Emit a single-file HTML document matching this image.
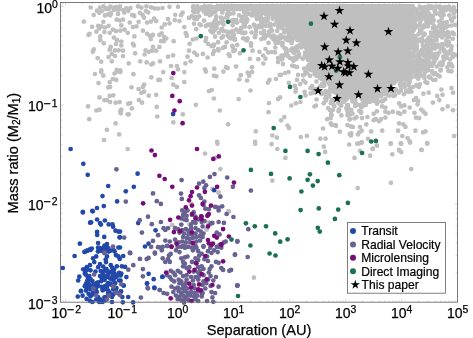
<!DOCTYPE html>
<html><head><meta charset="utf-8"><title>Mass ratio vs separation</title>
<style>html,body{margin:0;padding:0;background:#fff}body{width:473px;height:338px;overflow:hidden;position:relative}</style></head>
<body>
<svg width="473" height="338" viewBox="0 0 473 338" style="position:absolute;left:0;top:0;display:block">
<rect width="473" height="338" fill="#fff"/>
<g stroke="#cacaca" stroke-width="0.65" fill="none"><path d="M65.6 302.2v-3.3M65.6 2.5v3.3"/><path d="M82.5 302.2v-2.0M82.5 2.5v2.0"/><path d="M92.3 302.2v-2.0M92.3 2.5v2.0"/><path d="M99.3 302.2v-2.0M99.3 2.5v2.0"/><path d="M104.7 302.2v-2.0M104.7 2.5v2.0"/><path d="M109.2 302.2v-2.0M109.2 2.5v2.0"/><path d="M112.9 302.2v-2.0M112.9 2.5v2.0"/><path d="M116.2 302.2v-2.0M116.2 2.5v2.0"/><path d="M119.0 302.2v-2.0M119.0 2.5v2.0"/><path d="M121.6 302.2v-3.3M121.6 2.5v3.3"/><path d="M138.5 302.2v-2.0M138.5 2.5v2.0"/><path d="M148.3 302.2v-2.0M148.3 2.5v2.0"/><path d="M155.3 302.2v-2.0M155.3 2.5v2.0"/><path d="M160.7 302.2v-2.0M160.7 2.5v2.0"/><path d="M165.2 302.2v-2.0M165.2 2.5v2.0"/><path d="M168.9 302.2v-2.0M168.9 2.5v2.0"/><path d="M172.2 302.2v-2.0M172.2 2.5v2.0"/><path d="M175.0 302.2v-2.0M175.0 2.5v2.0"/><path d="M177.6 302.2v-3.3M177.6 2.5v3.3"/><path d="M194.5 302.2v-2.0M194.5 2.5v2.0"/><path d="M204.3 302.2v-2.0M204.3 2.5v2.0"/><path d="M211.3 302.2v-2.0M211.3 2.5v2.0"/><path d="M216.7 302.2v-2.0M216.7 2.5v2.0"/><path d="M221.2 302.2v-2.0M221.2 2.5v2.0"/><path d="M224.9 302.2v-2.0M224.9 2.5v2.0"/><path d="M228.2 302.2v-2.0M228.2 2.5v2.0"/><path d="M231.0 302.2v-2.0M231.0 2.5v2.0"/><path d="M233.6 302.2v-3.3M233.6 2.5v3.3"/><path d="M250.5 302.2v-2.0M250.5 2.5v2.0"/><path d="M260.3 302.2v-2.0M260.3 2.5v2.0"/><path d="M267.3 302.2v-2.0M267.3 2.5v2.0"/><path d="M272.7 302.2v-2.0M272.7 2.5v2.0"/><path d="M277.2 302.2v-2.0M277.2 2.5v2.0"/><path d="M280.9 302.2v-2.0M280.9 2.5v2.0"/><path d="M284.2 302.2v-2.0M284.2 2.5v2.0"/><path d="M287.0 302.2v-2.0M287.0 2.5v2.0"/><path d="M289.6 302.2v-3.3M289.6 2.5v3.3"/><path d="M306.5 302.2v-2.0M306.5 2.5v2.0"/><path d="M316.3 302.2v-2.0M316.3 2.5v2.0"/><path d="M323.3 302.2v-2.0M323.3 2.5v2.0"/><path d="M328.7 302.2v-2.0M328.7 2.5v2.0"/><path d="M333.2 302.2v-2.0M333.2 2.5v2.0"/><path d="M336.9 302.2v-2.0M336.9 2.5v2.0"/><path d="M340.2 302.2v-2.0M340.2 2.5v2.0"/><path d="M343.0 302.2v-2.0M343.0 2.5v2.0"/><path d="M345.6 302.2v-3.3M345.6 2.5v3.3"/><path d="M362.5 302.2v-2.0M362.5 2.5v2.0"/><path d="M372.3 302.2v-2.0M372.3 2.5v2.0"/><path d="M379.3 302.2v-2.0M379.3 2.5v2.0"/><path d="M384.7 302.2v-2.0M384.7 2.5v2.0"/><path d="M389.2 302.2v-2.0M389.2 2.5v2.0"/><path d="M392.9 302.2v-2.0M392.9 2.5v2.0"/><path d="M396.2 302.2v-2.0M396.2 2.5v2.0"/><path d="M399.0 302.2v-2.0M399.0 2.5v2.0"/><path d="M401.6 302.2v-3.3M401.6 2.5v3.3"/><path d="M418.5 302.2v-2.0M418.5 2.5v2.0"/><path d="M428.3 302.2v-2.0M428.3 2.5v2.0"/><path d="M435.3 302.2v-2.0M435.3 2.5v2.0"/><path d="M440.7 302.2v-2.0M440.7 2.5v2.0"/><path d="M445.2 302.2v-2.0M445.2 2.5v2.0"/><path d="M448.9 302.2v-2.0M448.9 2.5v2.0"/><path d="M452.2 302.2v-2.0M452.2 2.5v2.0"/><path d="M455.0 302.2v-2.0M455.0 2.5v2.0"/><path d="M457.6 302.2v-3.3M457.6 2.5v3.3"/><path d="M63.0 302.2v-2.0M63.0 2.5v2.0"/><path d="M60.5 272.8h2.0M457.5 272.8h-2.0"/><path d="M60.5 255.4h2.0M457.5 255.4h-2.0"/><path d="M60.5 243.1h2.0M457.5 243.1h-2.0"/><path d="M60.5 233.5h2.0M457.5 233.5h-2.0"/><path d="M60.5 225.7h2.0M457.5 225.7h-2.0"/><path d="M60.5 219.1h2.0M457.5 219.1h-2.0"/><path d="M60.5 213.4h2.0M457.5 213.4h-2.0"/><path d="M60.5 208.3h2.0M457.5 208.3h-2.0"/><path d="M60.5 203.8h3.3M457.5 203.8h-3.3"/><path d="M60.5 174.1h2.0M457.5 174.1h-2.0"/><path d="M60.5 156.7h2.0M457.5 156.7h-2.0"/><path d="M60.5 144.3h2.0M457.5 144.3h-2.0"/><path d="M60.5 134.8h2.0M457.5 134.8h-2.0"/><path d="M60.5 127.0h2.0M457.5 127.0h-2.0"/><path d="M60.5 120.3h2.0M457.5 120.3h-2.0"/><path d="M60.5 114.6h2.0M457.5 114.6h-2.0"/><path d="M60.5 109.6h2.0M457.5 109.6h-2.0"/><path d="M60.5 105.0h3.3M457.5 105.0h-3.3"/><path d="M60.5 75.3h2.0M457.5 75.3h-2.0"/><path d="M60.5 57.9h2.0M457.5 57.9h-2.0"/><path d="M60.5 45.6h2.0M457.5 45.6h-2.0"/><path d="M60.5 36.0h2.0M457.5 36.0h-2.0"/><path d="M60.5 28.2h2.0M457.5 28.2h-2.0"/><path d="M60.5 21.6h2.0M457.5 21.6h-2.0"/><path d="M60.5 15.9h2.0M457.5 15.9h-2.0"/><path d="M60.5 10.8h2.0M457.5 10.8h-2.0"/><path d="M60.5 6.3h3.3M457.5 6.3h-3.3"/></g>
<g fill="#bfbfbf"><path d="M216 4h198.5v1.3h-198.5zM212.5 5h202v1.3h-202zM214.5 6h195.5v1.3h-195.5zM216 7h193.5v1.3h-193.5zM212.5 8h200.5v1.3h-200.5zM214.5 9h197.5v1.3h-197.5zM216 10h193.5v1.3h-193.5zM256.5 11h156v1.3h-156zM259.5 12h156.5v1.3h-156.5zM262.5 13h151v1.3h-151zM265.5 14h145.5v1.3h-145.5zM268.5 15h145.5v1.3h-145.5zM271 16h143v1.3h-143zM272.5 17h137v1.3h-137zM274 18h135v1.3h-135zM275.5 19h137.5v1.3h-137.5zM277 20h136v1.3h-136zM278.5 21h131.5v1.3h-131.5zM280 22h132.5v1.3h-132.5zM281.5 23h134.5v1.3h-134.5zM283 24h131v1.3h-131zM284 25h126.5v1.3h-126.5zM285 26h128v1.3h-128zM286 27h128v1.3h-128zM287 28h123v1.3h-123zM288 29h120.5v1.3h-120.5zM289 30h124v1.3h-124zM290 31h123.5v1.3h-123.5zM291 32h119.5v1.3h-119.5zM292 33h120.5v1.3h-120.5zM293 34h123v1.3h-123zM294 35h120v1.3h-120zM295 36h115.5v1.3h-115.5zM296 37h116v1.3h-116zM296.5 38h117v1.3h-117zM297.5 39h112.5v1.3h-112.5zM298 40h110.5v1.3h-110.5zM299 41h114v1.3h-114zM299.5 42h114.5v1.3h-114.5zM300.5 43h111v1.3h-111zM301 44h111.5v1.3h-111.5zM302 45h114v1.3h-114zM302.5 46h111.5v1.3h-111.5zM303.5 47h106.5v1.3h-106.5zM304 48h107.5v1.3h-107.5zM305 49h108.5v1.3h-108.5zM305.5 50h105v1.3h-105zM306.5 51h102.5v1.3h-102.5zM307 52h106v1.3h-106zM307.5 53h107.5v1.3h-107.5zM308.5 54h103.5v1.3h-103.5zM309 55h103v1.3h-103zM309.5 56h106v1.3h-106zM310.5 57h103.5v1.3h-103.5zM311 58h98.5v1.3h-98.5zM311.5 59h99v1.3h-99zM312 60h101v1.3h-101zM312.5 61h98.5v1.3h-98.5zM313.5 62h95.5v1.3h-95.5zM314 63h99v1.3h-99zM314.5 64h101v1.3h-101zM315 65h97.5v1.3h-97.5zM315.5 66h96v1.3h-96zM316.5 67h98.5v1.3h-98.5zM317 68h97v1.3h-97zM317.5 69h92v1.3h-92zM318 70h92v1.3h-92zM318.5 71h94.5v1.3h-94.5zM319.5 72h92v1.3h-92zM320 73h89.5v1.3h-89.5zM320.5 74h92.5v1.3h-92.5zM321 75h91v1.3h-91zM321.5 76h88.5v1.3h-88.5zM322 77h85.5v1.3h-85.5zM323 78h82v1.3h-82zM323.5 79h79.5v1.3h-79.5zM324 80h76.5v1.3h-76.5zM325 81h73v1.3h-73zM325.5 82h70v1.3h-70zM326.5 83h66.5v1.3h-66.5zM327 84h63.5v1.3h-63.5zM328 85h60v1.3h-60zM328.5 86h57.5v1.3h-57.5zM329.5 87h54v1.3h-54zM331 88h50v1.3h-50zM332.5 89h46v1.3h-46zM334.5 90h41.5v1.3h-41.5zM336 91h37v1.3h-37zM338.5 92h32v1.3h-32zM341 93h26v1.3h-26zM344 94h17v1.3h-17z"/>
<circle cx="90.7" cy="7.5" r="2.35"/><circle cx="100.0" cy="7.7" r="2.35"/><circle cx="103.5" cy="6.3" r="2.35"/><circle cx="106.2" cy="8.3" r="2.35"/><circle cx="110.4" cy="6.7" r="2.35"/><circle cx="114.6" cy="7.3" r="2.35"/><circle cx="117.2" cy="7.3" r="2.35"/><circle cx="120.0" cy="6.5" r="2.35"/><circle cx="126.2" cy="8.4" r="2.35"/><circle cx="130.4" cy="8.0" r="2.35"/><circle cx="138.0" cy="6.3" r="2.35"/><circle cx="141.4" cy="7.6" r="2.35"/><circle cx="146.4" cy="6.3" r="2.35"/><circle cx="151.0" cy="7.3" r="2.35"/><circle cx="154.4" cy="8.4" r="2.35"/><circle cx="158.0" cy="8.5" r="2.35"/><circle cx="96.9" cy="10.7" r="2.35"/><circle cx="101.8" cy="11.0" r="2.35"/><circle cx="106.0" cy="8.9" r="2.35"/><circle cx="108.5" cy="9.2" r="2.35"/><circle cx="113.6" cy="9.7" r="2.35"/><circle cx="116.2" cy="9.4" r="2.35"/><circle cx="118.8" cy="9.6" r="2.35"/><circle cx="123.2" cy="10.1" r="2.35"/><circle cx="128.2" cy="11.0" r="2.35"/><circle cx="145.9" cy="11.0" r="2.35"/><circle cx="93.7" cy="15.0" r="2.35"/><circle cx="99.3" cy="12.8" r="2.35"/><circle cx="104.9" cy="15.4" r="2.35"/><circle cx="108.2" cy="14.4" r="2.35"/><circle cx="111.0" cy="13.4" r="2.35"/><circle cx="118.0" cy="13.9" r="2.35"/><circle cx="124.2" cy="12.6" r="2.35"/><circle cx="132.0" cy="15.0" r="2.35"/><circle cx="133.4" cy="15.0" r="2.35"/><circle cx="139.8" cy="12.8" r="2.35"/><circle cx="142.6" cy="14.9" r="2.35"/><circle cx="148.2" cy="12.5" r="2.35"/><circle cx="110.3" cy="15.3" r="2.35"/><circle cx="134.3" cy="16.1" r="2.35"/><circle cx="144.0" cy="17.7" r="2.35"/><circle cx="83.9" cy="21.6" r="2.35"/><circle cx="103.3" cy="21.8" r="2.35"/><circle cx="116.7" cy="19.7" r="2.35"/><circle cx="119.8" cy="20.5" r="2.35"/><circle cx="123.0" cy="19.7" r="2.35"/><circle cx="129.8" cy="22.6" r="2.35"/><circle cx="138.6" cy="21.8" r="2.35"/><circle cx="147.1" cy="22.6" r="2.35"/><circle cx="150.9" cy="21.6" r="2.35"/><circle cx="154.1" cy="18.6" r="2.35"/><circle cx="156.2" cy="21.1" r="2.35"/><circle cx="92.1" cy="26.8" r="2.35"/><circle cx="98.1" cy="25.8" r="2.35"/><circle cx="101.2" cy="26.4" r="2.35"/><circle cx="105.0" cy="27.5" r="2.35"/><circle cx="108.6" cy="25.8" r="2.35"/><circle cx="121.3" cy="25.4" r="2.35"/><circle cx="132.9" cy="27.1" r="2.35"/><circle cx="136.5" cy="26.4" r="2.35"/><circle cx="96.4" cy="31.7" r="2.35"/><circle cx="99.1" cy="28.5" r="2.35"/><circle cx="104.4" cy="32.1" r="2.35"/><circle cx="109.7" cy="32.8" r="2.35"/><circle cx="112.9" cy="29.6" r="2.35"/><circle cx="116.0" cy="31.1" r="2.35"/><circle cx="120.3" cy="30.7" r="2.35"/><circle cx="124.5" cy="29.6" r="2.35"/><circle cx="127.7" cy="32.8" r="2.35"/><circle cx="142.9" cy="30.7" r="2.35"/><circle cx="147.1" cy="33.8" r="2.35"/><circle cx="88.5" cy="34.9" r="2.35"/><circle cx="89.6" cy="33.8" r="2.35"/><circle cx="100.2" cy="36.4" r="2.35"/><circle cx="113.9" cy="37.6" r="2.35"/><circle cx="134.4" cy="36.4" r="2.35"/><circle cx="149.9" cy="35.9" r="2.35"/><circle cx="153.0" cy="34.9" r="2.35"/><circle cx="150.9" cy="39.1" r="2.35"/><circle cx="100.2" cy="40.2" r="2.35"/><circle cx="103.8" cy="43.3" r="2.35"/><circle cx="117.1" cy="40.2" r="2.35"/><circle cx="121.3" cy="41.6" r="2.35"/><circle cx="116.0" cy="44.0" r="2.35"/><circle cx="132.9" cy="43.8" r="2.35"/><circle cx="134.0" cy="45.5" r="2.35"/><circle cx="159.4" cy="34.9" r="2.35"/><circle cx="110.7" cy="46.9" r="2.35"/><circle cx="109.7" cy="49.7" r="2.35"/><circle cx="121.3" cy="45.5" r="2.35"/><circle cx="115.0" cy="50.3" r="2.35"/><circle cx="118.8" cy="50.3" r="2.35"/><circle cx="123.0" cy="50.7" r="2.35"/><circle cx="93.8" cy="49.3" r="2.35"/><circle cx="92.8" cy="51.8" r="2.35"/><circle cx="145.6" cy="50.3" r="2.35"/><circle cx="153.0" cy="46.9" r="2.35"/><circle cx="152.0" cy="50.7" r="2.35"/><circle cx="156.2" cy="50.7" r="2.35"/><circle cx="148.8" cy="51.8" r="2.35"/><circle cx="159.4" cy="46.9" r="2.35"/><circle cx="111.8" cy="53.9" r="2.35"/><circle cx="115.0" cy="56.0" r="2.35"/><circle cx="108.6" cy="57.1" r="2.35"/><circle cx="97.6" cy="58.1" r="2.35"/><circle cx="123.0" cy="56.0" r="2.35"/><circle cx="135.1" cy="53.3" r="2.35"/><circle cx="144.6" cy="54.5" r="2.35"/><circle cx="101.2" cy="61.7" r="2.35"/><circle cx="111.8" cy="61.3" r="2.35"/><circle cx="128.7" cy="63.4" r="2.35"/><circle cx="140.3" cy="61.3" r="2.35"/><circle cx="146.7" cy="62.4" r="2.35"/><circle cx="151.3" cy="64.5" r="2.35"/><circle cx="153.0" cy="63.4" r="2.35"/><circle cx="101.2" cy="70.4" r="2.35"/><circle cx="116.7" cy="69.8" r="2.35"/><circle cx="120.3" cy="70.4" r="2.35"/><circle cx="162.5" cy="8.0" r="2.35"/><circle cx="169.5" cy="6.8" r="2.35"/><circle cx="178.0" cy="6.8" r="2.35"/><circle cx="175.2" cy="14.8" r="2.35"/><circle cx="181.1" cy="15.2" r="2.35"/><circle cx="182.6" cy="12.7" r="2.35"/><circle cx="168.0" cy="19.0" r="2.35"/><circle cx="174.8" cy="20.1" r="2.35"/><circle cx="179.5" cy="21.1" r="2.35"/><circle cx="164.7" cy="24.3" r="2.35"/><circle cx="169.5" cy="23.3" r="2.35"/><circle cx="161.7" cy="27.5" r="2.35"/><circle cx="184.3" cy="27.1" r="2.35"/><circle cx="161.7" cy="33.4" r="2.35"/><circle cx="164.2" cy="37.0" r="2.35"/><circle cx="166.3" cy="38.5" r="2.35"/><circle cx="185.8" cy="33.2" r="2.35"/><circle cx="186.8" cy="35.9" r="2.35"/><circle cx="161.1" cy="41.2" r="2.35"/><circle cx="163.8" cy="41.2" r="2.35"/><circle cx="173.7" cy="41.2" r="2.35"/><circle cx="192.8" cy="39.5" r="2.35"/><circle cx="196.4" cy="38.5" r="2.35"/><circle cx="189.6" cy="43.8" r="2.35"/><circle cx="189.0" cy="50.7" r="2.35"/><circle cx="187.5" cy="56.7" r="2.35"/><circle cx="168.0" cy="56.7" r="2.35"/><circle cx="173.1" cy="55.4" r="2.35"/><circle cx="197.0" cy="55.0" r="2.35"/><circle cx="202.9" cy="53.9" r="2.35"/><circle cx="207.6" cy="57.5" r="2.35"/><circle cx="212.9" cy="53.9" r="2.35"/><circle cx="208.2" cy="44.0" r="2.35"/><circle cx="211.4" cy="45.9" r="2.35"/><circle cx="218.1" cy="49.0" r="2.35"/><circle cx="222.8" cy="48.0" r="2.35"/><circle cx="224.9" cy="46.9" r="2.35"/><circle cx="232.9" cy="46.9" r="2.35"/><circle cx="237.2" cy="44.8" r="2.35"/><circle cx="234.0" cy="50.7" r="2.35"/><circle cx="228.7" cy="54.3" r="2.35"/><circle cx="229.8" cy="56.0" r="2.35"/><circle cx="239.9" cy="53.3" r="2.35"/><circle cx="250.9" cy="43.3" r="2.35"/><circle cx="252.6" cy="50.7" r="2.35"/><circle cx="259.4" cy="51.8" r="2.35"/><circle cx="249.9" cy="58.8" r="2.35"/><circle cx="258.3" cy="59.2" r="2.35"/><circle cx="185.4" cy="63.4" r="2.35"/><circle cx="190.7" cy="61.3" r="2.35"/><circle cx="171.0" cy="66.0" r="2.35"/><circle cx="176.9" cy="66.0" r="2.35"/><circle cx="178.0" cy="69.3" r="2.35"/><circle cx="205.0" cy="69.3" r="2.35"/><circle cx="214.3" cy="68.7" r="2.35"/><circle cx="226.0" cy="67.2" r="2.35"/><circle cx="227.7" cy="68.1" r="2.35"/><circle cx="236.1" cy="66.6" r="2.35"/><circle cx="252.0" cy="67.2" r="2.35"/><circle cx="160.0" cy="61.3" r="2.35"/><circle cx="94.9" cy="74.0" r="2.35"/><circle cx="101.2" cy="72.1" r="2.35"/><circle cx="103.3" cy="75.7" r="2.35"/><circle cx="114.5" cy="73.5" r="2.35"/><circle cx="117.1" cy="71.4" r="2.35"/><circle cx="120.3" cy="72.1" r="2.35"/><circle cx="133.4" cy="74.2" r="2.35"/><circle cx="151.3" cy="77.3" r="2.35"/><circle cx="158.3" cy="79.9" r="2.35"/><circle cx="112.9" cy="79.0" r="2.35"/><circle cx="116.2" cy="79.9" r="2.35"/><circle cx="98.5" cy="83.1" r="2.35"/><circle cx="109.7" cy="82.2" r="2.35"/><circle cx="108.2" cy="87.5" r="2.35"/><circle cx="110.1" cy="86.9" r="2.35"/><circle cx="131.5" cy="87.3" r="2.35"/><circle cx="138.6" cy="89.0" r="2.35"/><circle cx="142.9" cy="86.9" r="2.35"/><circle cx="144.1" cy="84.7" r="2.35"/><circle cx="141.4" cy="92.8" r="2.35"/><circle cx="144.1" cy="91.7" r="2.35"/><circle cx="148.8" cy="95.7" r="2.35"/><circle cx="156.2" cy="94.9" r="2.35"/><circle cx="99.5" cy="97.4" r="2.35"/><circle cx="109.7" cy="95.9" r="2.35"/><circle cx="113.3" cy="95.3" r="2.35"/><circle cx="104.4" cy="100.2" r="2.35"/><circle cx="106.9" cy="100.2" r="2.35"/><circle cx="110.1" cy="102.1" r="2.35"/><circle cx="115.6" cy="102.7" r="2.35"/><circle cx="119.6" cy="102.1" r="2.35"/><circle cx="128.1" cy="103.8" r="2.35"/><circle cx="130.2" cy="103.1" r="2.35"/><circle cx="138.9" cy="100.0" r="2.35"/><circle cx="142.0" cy="102.7" r="2.35"/><circle cx="88.1" cy="106.3" r="2.35"/><circle cx="96.4" cy="110.5" r="2.35"/><circle cx="99.5" cy="109.7" r="2.35"/><circle cx="121.3" cy="109.7" r="2.35"/><circle cx="120.3" cy="111.2" r="2.35"/><circle cx="131.9" cy="108.4" r="2.35"/><circle cx="156.8" cy="106.9" r="2.35"/><circle cx="120.7" cy="113.3" r="2.35"/><circle cx="127.7" cy="114.3" r="2.35"/><circle cx="128.7" cy="114.3" r="2.35"/><circle cx="89.2" cy="119.2" r="2.35"/><circle cx="157.3" cy="116.5" r="2.35"/><circle cx="115.6" cy="123.4" r="2.35"/><circle cx="106.9" cy="129.8" r="2.35"/><circle cx="119.2" cy="134.4" r="2.35"/><circle cx="104.0" cy="140.1" r="2.35"/><circle cx="163.2" cy="72.1" r="2.35"/><circle cx="184.3" cy="72.1" r="2.35"/><circle cx="205.9" cy="71.6" r="2.35"/><circle cx="223.4" cy="71.6" r="2.35"/><circle cx="171.6" cy="78.0" r="2.35"/><circle cx="184.3" cy="82.0" r="2.35"/><circle cx="213.9" cy="75.7" r="2.35"/><circle cx="216.4" cy="76.3" r="2.35"/><circle cx="240.8" cy="75.2" r="2.35"/><circle cx="239.3" cy="79.5" r="2.35"/><circle cx="247.7" cy="72.7" r="2.35"/><circle cx="252.0" cy="72.1" r="2.35"/><circle cx="249.2" cy="75.7" r="2.35"/><circle cx="247.1" cy="80.5" r="2.35"/><circle cx="173.3" cy="84.7" r="2.35"/><circle cx="176.9" cy="86.9" r="2.35"/><circle cx="209.0" cy="91.1" r="2.35"/><circle cx="211.8" cy="90.0" r="2.35"/><circle cx="250.5" cy="90.5" r="2.35"/><circle cx="213.9" cy="98.5" r="2.35"/><circle cx="238.6" cy="99.1" r="2.35"/><circle cx="195.9" cy="104.8" r="2.35"/><circle cx="219.8" cy="110.5" r="2.35"/><circle cx="182.8" cy="114.3" r="2.35"/><circle cx="173.3" cy="122.4" r="2.35"/><circle cx="228.1" cy="124.3" r="2.35"/><circle cx="255.8" cy="131.3" r="2.35"/><circle cx="217.1" cy="141.8" r="2.35"/><circle cx="255.1" cy="141.8" r="2.35"/><circle cx="160.0" cy="79.9" r="2.35"/><circle cx="281.1" cy="74.8" r="2.35"/><circle cx="288.5" cy="72.1" r="2.35"/><circle cx="298.1" cy="74.8" r="2.35"/><circle cx="269.5" cy="79.9" r="2.35"/><circle cx="275.9" cy="79.0" r="2.35"/><circle cx="268.0" cy="82.6" r="2.35"/><circle cx="297.0" cy="79.9" r="2.35"/><circle cx="303.3" cy="80.5" r="2.35"/><circle cx="305.5" cy="82.6" r="2.35"/><circle cx="300.2" cy="84.1" r="2.35"/><circle cx="294.9" cy="85.8" r="2.35"/><circle cx="295.9" cy="89.0" r="2.35"/><circle cx="295.5" cy="91.7" r="2.35"/><circle cx="280.1" cy="97.4" r="2.35"/><circle cx="278.0" cy="99.1" r="2.35"/><circle cx="268.9" cy="103.1" r="2.35"/><circle cx="295.9" cy="103.3" r="2.35"/><circle cx="291.3" cy="105.5" r="2.35"/><circle cx="316.0" cy="105.5" r="2.35"/><circle cx="314.5" cy="106.5" r="2.35"/><circle cx="268.5" cy="112.2" r="2.35"/><circle cx="284.3" cy="117.1" r="2.35"/><circle cx="281.1" cy="120.3" r="2.35"/><circle cx="287.5" cy="125.5" r="2.35"/><circle cx="289.0" cy="128.1" r="2.35"/><circle cx="328.1" cy="108.0" r="2.35"/><circle cx="329.8" cy="110.1" r="2.35"/><circle cx="327.2" cy="119.2" r="2.35"/><circle cx="331.5" cy="115.4" r="2.35"/><circle cx="341.4" cy="115.4" r="2.35"/><circle cx="338.6" cy="111.2" r="2.35"/><circle cx="330.8" cy="123.4" r="2.35"/><circle cx="331.9" cy="124.9" r="2.35"/><circle cx="323.0" cy="128.5" r="2.35"/><circle cx="339.9" cy="131.7" r="2.35"/><circle cx="349.9" cy="119.2" r="2.35"/><circle cx="350.9" cy="126.4" r="2.35"/><circle cx="353.0" cy="127.0" r="2.35"/><circle cx="351.3" cy="133.4" r="2.35"/><circle cx="359.4" cy="132.3" r="2.35"/><circle cx="272.3" cy="135.5" r="2.35"/><circle cx="276.9" cy="137.6" r="2.35"/><circle cx="300.8" cy="137.0" r="2.35"/><circle cx="306.9" cy="135.9" r="2.35"/><circle cx="320.3" cy="138.7" r="2.35"/><circle cx="325.5" cy="138.7" r="2.35"/><circle cx="350.9" cy="135.5" r="2.35"/><circle cx="360.0" cy="127.0" r="2.35"/><circle cx="127.7" cy="149.0" r="2.35"/><circle cx="217.5" cy="143.7" r="2.35"/><circle cx="255.1" cy="143.7" r="2.35"/><circle cx="205.0" cy="153.6" r="2.35"/><circle cx="215.4" cy="157.9" r="2.35"/><circle cx="220.3" cy="169.1" r="2.35"/><circle cx="212.4" cy="188.9" r="2.35"/><circle cx="218.6" cy="192.7" r="2.35"/><circle cx="228.7" cy="211.3" r="2.35"/><circle cx="218.1" cy="207.5" r="2.35"/><circle cx="271.6" cy="144.1" r="2.35"/><circle cx="277.3" cy="149.0" r="2.35"/><circle cx="285.4" cy="157.9" r="2.35"/><circle cx="323.8" cy="146.7" r="2.35"/><circle cx="325.1" cy="151.9" r="2.35"/><circle cx="349.2" cy="144.5" r="2.35"/><circle cx="357.3" cy="143.7" r="2.35"/><circle cx="354.5" cy="157.9" r="2.35"/><circle cx="272.3" cy="180.7" r="2.35"/><circle cx="357.7" cy="188.1" r="2.35"/><circle cx="361.7" cy="142.6" r="2.35"/><circle cx="390.7" cy="143.7" r="2.35"/><circle cx="401.2" cy="143.7" r="2.35"/><circle cx="410.1" cy="142.6" r="2.35"/><circle cx="427.2" cy="143.7" r="2.35"/><circle cx="376.9" cy="145.6" r="2.35"/><circle cx="372.7" cy="149.0" r="2.35"/><circle cx="370.1" cy="155.7" r="2.35"/><circle cx="392.3" cy="154.3" r="2.35"/><circle cx="399.1" cy="150.5" r="2.35"/><circle cx="401.2" cy="152.1" r="2.35"/><circle cx="421.7" cy="150.0" r="2.35"/><circle cx="411.2" cy="169.1" r="2.35"/><circle cx="390.9" cy="182.8" r="2.35"/><circle cx="172.1" cy="225.0" r="2.35"/><circle cx="228.7" cy="211.3" r="2.35"/><circle cx="206.7" cy="229.3" r="2.35"/><circle cx="189.5" cy="224.6" r="2.35"/><circle cx="208.6" cy="222.7" r="2.35"/><circle cx="253.9" cy="277.7" r="2.35"/><circle cx="218.6" cy="192.7" r="2.35"/><circle cx="191.6" cy="203.9" r="2.35"/><circle cx="216.8" cy="206.9" r="2.35"/><circle cx="228.4" cy="211.3" r="2.35"/><circle cx="172.1" cy="225.0" r="2.35"/><circle cx="206.5" cy="229.4" r="2.35"/><circle cx="208.0" cy="222.0" r="2.35"/><circle cx="190.2" cy="224.6" r="2.35"/><circle cx="451.5" cy="88.0" r="2.35"/><circle cx="453.0" cy="92.7" r="2.35"/><circle cx="441.4" cy="89.5" r="2.35"/><circle cx="442.5" cy="94.8" r="2.35"/><circle cx="437.2" cy="95.9" r="2.35"/><circle cx="439.3" cy="100.1" r="2.35"/><circle cx="432.9" cy="102.6" r="2.35"/><circle cx="423.4" cy="93.7" r="2.35"/><circle cx="428.7" cy="92.7" r="2.35"/><circle cx="416.0" cy="98.0" r="2.35"/><circle cx="418.1" cy="101.1" r="2.35"/><circle cx="413.9" cy="100.1" r="2.35"/><circle cx="417.5" cy="104.3" r="2.35"/><circle cx="409.7" cy="107.5" r="2.35"/><circle cx="421.3" cy="109.6" r="2.35"/><circle cx="423.4" cy="111.7" r="2.35"/><circle cx="425.5" cy="113.8" r="2.35"/><circle cx="419.2" cy="118.1" r="2.35"/><circle cx="416.0" cy="117.6" r="2.35"/><circle cx="414.5" cy="112.8" r="2.35"/><circle cx="404.4" cy="105.4" r="2.35"/><circle cx="399.1" cy="103.3" r="2.35"/><circle cx="401.2" cy="106.4" r="2.35"/><circle cx="398.1" cy="112.8" r="2.35"/><circle cx="404.4" cy="111.7" r="2.35"/><circle cx="400.2" cy="113.8" r="2.35"/><circle cx="385.4" cy="107.5" r="2.35"/><circle cx="382.2" cy="106.4" r="2.35"/><circle cx="385.4" cy="111.7" r="2.35"/><circle cx="388.5" cy="112.8" r="2.35"/><circle cx="392.8" cy="111.7" r="2.35"/><circle cx="376.9" cy="111.3" r="2.35"/><circle cx="373.7" cy="113.8" r="2.35"/><circle cx="375.9" cy="119.1" r="2.35"/><circle cx="381.1" cy="119.1" r="2.35"/><circle cx="385.4" cy="117.6" r="2.35"/><circle cx="379.0" cy="121.2" r="2.35"/><circle cx="373.7" cy="120.2" r="2.35"/><circle cx="367.4" cy="117.0" r="2.35"/><circle cx="362.1" cy="118.1" r="2.35"/><circle cx="361.1" cy="112.8" r="2.35"/><circle cx="366.3" cy="124.4" r="2.35"/><circle cx="399.1" cy="123.3" r="2.35"/><circle cx="403.3" cy="124.4" r="2.35"/><circle cx="405.5" cy="126.9" r="2.35"/><circle cx="398.1" cy="130.7" r="2.35"/><circle cx="382.2" cy="130.7" r="2.35"/><circle cx="371.2" cy="131.4" r="2.35"/><circle cx="361.7" cy="130.7" r="2.35"/><circle cx="415.4" cy="130.7" r="2.35"/><circle cx="423.0" cy="132.4" r="2.35"/><circle cx="425.5" cy="131.4" r="2.35"/><circle cx="402.3" cy="136.0" r="2.35"/><circle cx="407.6" cy="138.1" r="2.35"/><circle cx="409.7" cy="141.3" r="2.35"/><circle cx="390.7" cy="143.4" r="2.35"/><circle cx="400.8" cy="143.4" r="2.35"/><circle cx="427.2" cy="143.0" r="2.35"/><circle cx="361.7" cy="142.4" r="2.35"/><circle cx="368.0" cy="138.8" r="2.35"/><circle cx="372.7" cy="148.7" r="2.35"/><circle cx="360.0" cy="150.8" r="2.35"/><circle cx="454.1" cy="136.0" r="2.35"/><circle cx="442.5" cy="109.2" r="2.35"/><circle cx="447.7" cy="106.4" r="2.35"/><circle cx="453.0" cy="110.2" r="2.35"/><circle cx="376.9" cy="145.5" r="2.35"/><circle cx="421.3" cy="149.8" r="2.35"/><circle cx="399.1" cy="149.8" r="2.35"/><circle cx="195.9" cy="7.3" r="2.35"/><circle cx="193.2" cy="6.4" r="2.35"/><circle cx="193.2" cy="7.3" r="2.35"/><circle cx="197.5" cy="6.4" r="2.35"/><circle cx="196.2" cy="7.1" r="2.35"/><circle cx="201.8" cy="7.3" r="2.35"/><circle cx="202.8" cy="7.0" r="2.35"/><circle cx="205.7" cy="7.0" r="2.35"/><circle cx="204.6" cy="6.3" r="2.35"/><circle cx="206.7" cy="7.1" r="2.35"/><circle cx="206.3" cy="7.5" r="2.35"/><circle cx="205.3" cy="6.8" r="2.35"/><circle cx="210.7" cy="7.1" r="2.35"/><circle cx="210.6" cy="8.0" r="2.35"/><circle cx="211.3" cy="6.8" r="2.35"/><circle cx="210.7" cy="6.9" r="2.35"/><circle cx="208.7" cy="6.4" r="2.35"/><circle cx="213.6" cy="7.5" r="2.35"/><circle cx="212.3" cy="7.0" r="2.35"/><circle cx="411.4" cy="8.0" r="2.35"/><circle cx="409.9" cy="6.4" r="2.35"/><circle cx="413.1" cy="7.3" r="2.35"/><circle cx="419.8" cy="6.5" r="2.35"/><circle cx="422.1" cy="7.9" r="2.35"/><circle cx="424.7" cy="7.1" r="2.35"/><circle cx="426.1" cy="7.1" r="2.35"/><circle cx="425.3" cy="7.3" r="2.35"/><circle cx="430.1" cy="6.3" r="2.35"/><circle cx="428.1" cy="6.6" r="2.35"/><circle cx="430.8" cy="7.8" r="2.35"/><circle cx="429.8" cy="7.7" r="2.35"/><circle cx="432.0" cy="7.8" r="2.35"/><circle cx="432.9" cy="6.5" r="2.35"/><circle cx="436.3" cy="6.6" r="2.35"/><circle cx="439.6" cy="7.1" r="2.35"/><circle cx="439.0" cy="6.5" r="2.35"/><circle cx="439.2" cy="7.3" r="2.35"/><circle cx="439.9" cy="6.8" r="2.35"/><circle cx="440.5" cy="7.4" r="2.35"/><circle cx="443.2" cy="7.3" r="2.35"/><circle cx="444.5" cy="7.5" r="2.35"/><circle cx="446.6" cy="7.4" r="2.35"/><circle cx="445.7" cy="7.5" r="2.35"/><circle cx="449.0" cy="6.6" r="2.35"/><circle cx="453.7" cy="7.4" r="2.35"/><circle cx="194.2" cy="9.0" r="2.35"/><circle cx="193.1" cy="11.1" r="2.35"/><circle cx="198.5" cy="10.0" r="2.35"/><circle cx="198.0" cy="10.8" r="2.35"/><circle cx="197.8" cy="10.1" r="2.35"/><circle cx="197.9" cy="11.8" r="2.35"/><circle cx="203.8" cy="11.4" r="2.35"/><circle cx="200.5" cy="8.5" r="2.35"/><circle cx="201.8" cy="8.3" r="2.35"/><circle cx="201.0" cy="8.3" r="2.35"/><circle cx="206.9" cy="10.6" r="2.35"/><circle cx="204.6" cy="11.5" r="2.35"/><circle cx="207.9" cy="8.9" r="2.35"/><circle cx="209.7" cy="10.1" r="2.35"/><circle cx="209.4" cy="8.8" r="2.35"/><circle cx="209.3" cy="10.9" r="2.35"/><circle cx="208.1" cy="10.2" r="2.35"/><circle cx="209.8" cy="8.1" r="2.35"/><circle cx="212.3" cy="11.9" r="2.35"/><circle cx="215.2" cy="11.9" r="2.35"/><circle cx="411.3" cy="9.7" r="2.35"/><circle cx="410.0" cy="11.3" r="2.35"/><circle cx="409.6" cy="10.0" r="2.35"/><circle cx="410.8" cy="11.9" r="2.35"/><circle cx="409.4" cy="11.3" r="2.35"/><circle cx="412.5" cy="8.3" r="2.35"/><circle cx="415.0" cy="9.0" r="2.35"/><circle cx="412.7" cy="8.3" r="2.35"/><circle cx="415.4" cy="11.5" r="2.35"/><circle cx="417.2" cy="9.8" r="2.35"/><circle cx="416.6" cy="9.8" r="2.35"/><circle cx="423.9" cy="9.2" r="2.35"/><circle cx="421.4" cy="8.0" r="2.35"/><circle cx="421.5" cy="9.9" r="2.35"/><circle cx="422.0" cy="8.8" r="2.35"/><circle cx="425.1" cy="8.4" r="2.35"/><circle cx="428.1" cy="9.2" r="2.35"/><circle cx="435.0" cy="10.6" r="2.35"/><circle cx="434.9" cy="11.5" r="2.35"/><circle cx="439.9" cy="8.6" r="2.35"/><circle cx="443.3" cy="11.6" r="2.35"/><circle cx="442.5" cy="10.9" r="2.35"/><circle cx="446.1" cy="10.0" r="2.35"/><circle cx="450.8" cy="8.9" r="2.35"/><circle cx="448.1" cy="8.5" r="2.35"/><circle cx="449.4" cy="8.4" r="2.35"/><circle cx="451.3" cy="10.2" r="2.35"/><circle cx="450.5" cy="10.5" r="2.35"/><circle cx="455.2" cy="11.0" r="2.35"/><circle cx="454.0" cy="10.1" r="2.35"/><circle cx="194.3" cy="12.0" r="2.35"/><circle cx="206.1" cy="13.9" r="2.35"/><circle cx="205.9" cy="12.5" r="2.35"/><circle cx="207.6" cy="12.8" r="2.35"/><circle cx="209.8" cy="15.3" r="2.35"/><circle cx="211.9" cy="13.8" r="2.35"/><circle cx="222.3" cy="12.6" r="2.35"/><circle cx="227.3" cy="14.0" r="2.35"/><circle cx="227.5" cy="14.8" r="2.35"/><circle cx="228.1" cy="12.0" r="2.35"/><circle cx="230.0" cy="13.8" r="2.35"/><circle cx="233.4" cy="13.3" r="2.35"/><circle cx="239.0" cy="15.4" r="2.35"/><circle cx="245.6" cy="16.0" r="2.35"/><circle cx="246.4" cy="13.4" r="2.35"/><circle cx="245.7" cy="13.1" r="2.35"/><circle cx="244.2" cy="12.4" r="2.35"/><circle cx="249.1" cy="14.0" r="2.35"/><circle cx="248.8" cy="13.5" r="2.35"/><circle cx="251.8" cy="15.5" r="2.35"/><circle cx="254.9" cy="13.8" r="2.35"/><circle cx="255.0" cy="14.6" r="2.35"/><circle cx="253.1" cy="12.2" r="2.35"/><circle cx="255.7" cy="12.5" r="2.35"/><circle cx="253.9" cy="13.4" r="2.35"/><circle cx="253.2" cy="15.0" r="2.35"/><circle cx="258.2" cy="13.6" r="2.35"/><circle cx="256.7" cy="12.6" r="2.35"/><circle cx="256.8" cy="15.6" r="2.35"/><circle cx="260.6" cy="12.8" r="2.35"/><circle cx="260.4" cy="13.4" r="2.35"/><circle cx="260.4" cy="13.0" r="2.35"/><circle cx="261.0" cy="14.3" r="2.35"/><circle cx="265.5" cy="13.4" r="2.35"/><circle cx="264.2" cy="13.1" r="2.35"/><circle cx="267.9" cy="12.5" r="2.35"/><circle cx="266.0" cy="14.5" r="2.35"/><circle cx="410.5" cy="14.8" r="2.35"/><circle cx="408.4" cy="12.3" r="2.35"/><circle cx="410.1" cy="14.3" r="2.35"/><circle cx="409.6" cy="12.9" r="2.35"/><circle cx="413.2" cy="13.8" r="2.35"/><circle cx="419.8" cy="14.8" r="2.35"/><circle cx="417.2" cy="12.1" r="2.35"/><circle cx="418.0" cy="14.7" r="2.35"/><circle cx="417.7" cy="13.0" r="2.35"/><circle cx="418.7" cy="15.7" r="2.35"/><circle cx="421.4" cy="13.7" r="2.35"/><circle cx="424.8" cy="15.9" r="2.35"/><circle cx="425.2" cy="15.3" r="2.35"/><circle cx="424.9" cy="12.9" r="2.35"/><circle cx="427.0" cy="13.2" r="2.35"/><circle cx="428.9" cy="13.7" r="2.35"/><circle cx="430.7" cy="15.8" r="2.35"/><circle cx="432.9" cy="15.9" r="2.35"/><circle cx="436.2" cy="13.6" r="2.35"/><circle cx="443.7" cy="15.0" r="2.35"/><circle cx="440.1" cy="14.7" r="2.35"/><circle cx="441.5" cy="13.5" r="2.35"/><circle cx="441.3" cy="12.7" r="2.35"/><circle cx="440.0" cy="13.1" r="2.35"/><circle cx="441.4" cy="15.8" r="2.35"/><circle cx="449.4" cy="15.3" r="2.35"/><circle cx="453.9" cy="13.5" r="2.35"/><circle cx="191.8" cy="16.1" r="2.35"/><circle cx="188.9" cy="17.9" r="2.35"/><circle cx="193.7" cy="18.0" r="2.35"/><circle cx="195.7" cy="16.7" r="2.35"/><circle cx="195.2" cy="19.0" r="2.35"/><circle cx="197.3" cy="17.4" r="2.35"/><circle cx="199.1" cy="16.3" r="2.35"/><circle cx="196.8" cy="19.0" r="2.35"/><circle cx="215.9" cy="19.5" r="2.35"/><circle cx="216.3" cy="16.4" r="2.35"/><circle cx="220.9" cy="17.7" r="2.35"/><circle cx="222.5" cy="18.7" r="2.35"/><circle cx="227.4" cy="17.2" r="2.35"/><circle cx="226.3" cy="17.5" r="2.35"/><circle cx="227.0" cy="16.8" r="2.35"/><circle cx="241.6" cy="20.0" r="2.35"/><circle cx="242.0" cy="16.9" r="2.35"/><circle cx="245.9" cy="19.3" r="2.35"/><circle cx="247.4" cy="19.7" r="2.35"/><circle cx="244.2" cy="17.2" r="2.35"/><circle cx="257.0" cy="19.1" r="2.35"/><circle cx="259.8" cy="16.4" r="2.35"/><circle cx="258.4" cy="18.5" r="2.35"/><circle cx="256.9" cy="17.5" r="2.35"/><circle cx="256.6" cy="16.8" r="2.35"/><circle cx="260.8" cy="16.0" r="2.35"/><circle cx="261.3" cy="18.7" r="2.35"/><circle cx="264.8" cy="19.2" r="2.35"/><circle cx="268.4" cy="17.6" r="2.35"/><circle cx="272.7" cy="18.8" r="2.35"/><circle cx="273.6" cy="17.1" r="2.35"/><circle cx="411.8" cy="19.9" r="2.35"/><circle cx="409.9" cy="16.2" r="2.35"/><circle cx="411.7" cy="17.6" r="2.35"/><circle cx="411.6" cy="18.5" r="2.35"/><circle cx="413.6" cy="19.4" r="2.35"/><circle cx="415.3" cy="16.7" r="2.35"/><circle cx="412.9" cy="17.6" r="2.35"/><circle cx="417.0" cy="18.9" r="2.35"/><circle cx="419.6" cy="16.2" r="2.35"/><circle cx="423.4" cy="16.5" r="2.35"/><circle cx="422.4" cy="18.2" r="2.35"/><circle cx="425.7" cy="18.6" r="2.35"/><circle cx="425.8" cy="17.8" r="2.35"/><circle cx="424.1" cy="18.5" r="2.35"/><circle cx="431.1" cy="17.8" r="2.35"/><circle cx="428.7" cy="17.9" r="2.35"/><circle cx="441.8" cy="18.0" r="2.35"/><circle cx="450.9" cy="19.1" r="2.35"/><circle cx="454.0" cy="17.5" r="2.35"/><circle cx="194.0" cy="23.7" r="2.35"/><circle cx="204.1" cy="20.7" r="2.35"/><circle cx="215.1" cy="20.5" r="2.35"/><circle cx="214.1" cy="22.5" r="2.35"/><circle cx="213.4" cy="23.5" r="2.35"/><circle cx="220.0" cy="22.5" r="2.35"/><circle cx="217.6" cy="23.2" r="2.35"/><circle cx="217.1" cy="24.0" r="2.35"/><circle cx="223.1" cy="21.8" r="2.35"/><circle cx="231.3" cy="21.0" r="2.35"/><circle cx="233.3" cy="20.0" r="2.35"/><circle cx="232.1" cy="20.6" r="2.35"/><circle cx="234.5" cy="21.7" r="2.35"/><circle cx="236.9" cy="22.6" r="2.35"/><circle cx="236.1" cy="20.0" r="2.35"/><circle cx="241.4" cy="20.9" r="2.35"/><circle cx="246.5" cy="21.9" r="2.35"/><circle cx="244.5" cy="23.7" r="2.35"/><circle cx="261.1" cy="20.0" r="2.35"/><circle cx="262.6" cy="22.2" r="2.35"/><circle cx="261.4" cy="22.6" r="2.35"/><circle cx="267.6" cy="20.2" r="2.35"/><circle cx="266.1" cy="21.6" r="2.35"/><circle cx="265.0" cy="20.2" r="2.35"/><circle cx="270.2" cy="23.8" r="2.35"/><circle cx="278.6" cy="23.3" r="2.35"/><circle cx="276.7" cy="21.2" r="2.35"/><circle cx="409.0" cy="23.6" r="2.35"/><circle cx="410.5" cy="22.8" r="2.35"/><circle cx="410.7" cy="23.9" r="2.35"/><circle cx="409.9" cy="23.4" r="2.35"/><circle cx="410.8" cy="23.4" r="2.35"/><circle cx="409.7" cy="22.9" r="2.35"/><circle cx="414.5" cy="20.3" r="2.35"/><circle cx="415.6" cy="20.6" r="2.35"/><circle cx="420.6" cy="20.1" r="2.35"/><circle cx="420.2" cy="22.8" r="2.35"/><circle cx="426.4" cy="21.5" r="2.35"/><circle cx="427.3" cy="23.3" r="2.35"/><circle cx="427.6" cy="20.3" r="2.35"/><circle cx="428.8" cy="20.4" r="2.35"/><circle cx="428.1" cy="23.4" r="2.35"/><circle cx="431.2" cy="22.5" r="2.35"/><circle cx="432.4" cy="23.0" r="2.35"/><circle cx="432.8" cy="21.3" r="2.35"/><circle cx="433.7" cy="20.1" r="2.35"/><circle cx="438.9" cy="21.5" r="2.35"/><circle cx="443.4" cy="22.5" r="2.35"/><circle cx="440.1" cy="21.7" r="2.35"/><circle cx="446.8" cy="22.2" r="2.35"/><circle cx="444.9" cy="23.4" r="2.35"/><circle cx="452.0" cy="20.8" r="2.35"/><circle cx="199.6" cy="24.3" r="2.35"/><circle cx="200.8" cy="25.1" r="2.35"/><circle cx="207.5" cy="24.9" r="2.35"/><circle cx="205.8" cy="26.1" r="2.35"/><circle cx="209.3" cy="24.6" r="2.35"/><circle cx="211.4" cy="26.6" r="2.35"/><circle cx="211.0" cy="24.7" r="2.35"/><circle cx="212.5" cy="25.8" r="2.35"/><circle cx="215.5" cy="25.0" r="2.35"/><circle cx="223.4" cy="24.6" r="2.35"/><circle cx="232.6" cy="25.3" r="2.35"/><circle cx="243.8" cy="24.4" r="2.35"/><circle cx="241.5" cy="27.9" r="2.35"/><circle cx="244.8" cy="26.6" r="2.35"/><circle cx="244.4" cy="24.8" r="2.35"/><circle cx="249.6" cy="27.2" r="2.35"/><circle cx="253.9" cy="24.6" r="2.35"/><circle cx="254.4" cy="25.6" r="2.35"/><circle cx="259.0" cy="25.7" r="2.35"/><circle cx="256.9" cy="26.9" r="2.35"/><circle cx="259.5" cy="27.1" r="2.35"/><circle cx="261.8" cy="25.3" r="2.35"/><circle cx="262.5" cy="24.4" r="2.35"/><circle cx="261.7" cy="27.1" r="2.35"/><circle cx="265.7" cy="25.8" r="2.35"/><circle cx="266.5" cy="25.6" r="2.35"/><circle cx="270.6" cy="27.1" r="2.35"/><circle cx="269.6" cy="26.0" r="2.35"/><circle cx="274.2" cy="24.6" r="2.35"/><circle cx="278.3" cy="26.2" r="2.35"/><circle cx="278.9" cy="26.0" r="2.35"/><circle cx="278.6" cy="27.3" r="2.35"/><circle cx="282.7" cy="25.6" r="2.35"/><circle cx="283.1" cy="24.5" r="2.35"/><circle cx="283.9" cy="25.4" r="2.35"/><circle cx="409.5" cy="25.0" r="2.35"/><circle cx="409.7" cy="24.7" r="2.35"/><circle cx="408.0" cy="26.9" r="2.35"/><circle cx="409.1" cy="25.0" r="2.35"/><circle cx="409.2" cy="25.9" r="2.35"/><circle cx="415.3" cy="27.6" r="2.35"/><circle cx="415.1" cy="24.6" r="2.35"/><circle cx="415.3" cy="26.5" r="2.35"/><circle cx="412.1" cy="24.0" r="2.35"/><circle cx="415.8" cy="26.6" r="2.35"/><circle cx="413.0" cy="24.4" r="2.35"/><circle cx="419.1" cy="25.4" r="2.35"/><circle cx="423.6" cy="26.4" r="2.35"/><circle cx="423.1" cy="26.7" r="2.35"/><circle cx="423.6" cy="27.2" r="2.35"/><circle cx="427.0" cy="25.8" r="2.35"/><circle cx="427.5" cy="26.2" r="2.35"/><circle cx="425.1" cy="24.9" r="2.35"/><circle cx="428.2" cy="25.9" r="2.35"/><circle cx="434.0" cy="26.2" r="2.35"/><circle cx="439.4" cy="25.9" r="2.35"/><circle cx="441.7" cy="27.8" r="2.35"/><circle cx="440.3" cy="26.5" r="2.35"/><circle cx="442.5" cy="24.1" r="2.35"/><circle cx="447.9" cy="26.0" r="2.35"/><circle cx="445.9" cy="27.6" r="2.35"/><circle cx="444.1" cy="26.9" r="2.35"/><circle cx="451.4" cy="25.5" r="2.35"/><circle cx="455.1" cy="24.8" r="2.35"/><circle cx="196.2" cy="29.2" r="2.35"/><circle cx="211.2" cy="31.6" r="2.35"/><circle cx="210.4" cy="30.5" r="2.35"/><circle cx="214.7" cy="28.9" r="2.35"/><circle cx="214.7" cy="29.8" r="2.35"/><circle cx="216.7" cy="28.1" r="2.35"/><circle cx="223.3" cy="31.1" r="2.35"/><circle cx="222.2" cy="29.0" r="2.35"/><circle cx="221.2" cy="29.7" r="2.35"/><circle cx="226.6" cy="31.7" r="2.35"/><circle cx="232.5" cy="31.2" r="2.35"/><circle cx="236.1" cy="29.5" r="2.35"/><circle cx="238.4" cy="31.8" r="2.35"/><circle cx="240.4" cy="30.6" r="2.35"/><circle cx="240.8" cy="28.6" r="2.35"/><circle cx="255.9" cy="28.4" r="2.35"/><circle cx="256.1" cy="30.9" r="2.35"/><circle cx="264.2" cy="31.1" r="2.35"/><circle cx="270.5" cy="30.8" r="2.35"/><circle cx="269.8" cy="31.7" r="2.35"/><circle cx="269.0" cy="31.9" r="2.35"/><circle cx="272.1" cy="30.6" r="2.35"/><circle cx="277.2" cy="30.9" r="2.35"/><circle cx="281.9" cy="28.2" r="2.35"/><circle cx="284.6" cy="31.2" r="2.35"/><circle cx="285.5" cy="30.6" r="2.35"/><circle cx="286.5" cy="29.7" r="2.35"/><circle cx="288.2" cy="31.9" r="2.35"/><circle cx="290.8" cy="31.3" r="2.35"/><circle cx="289.3" cy="30.4" r="2.35"/><circle cx="291.9" cy="31.3" r="2.35"/><circle cx="290.4" cy="29.2" r="2.35"/><circle cx="409.0" cy="31.0" r="2.35"/><circle cx="411.2" cy="29.8" r="2.35"/><circle cx="408.4" cy="31.2" r="2.35"/><circle cx="411.1" cy="28.9" r="2.35"/><circle cx="410.3" cy="31.6" r="2.35"/><circle cx="411.5" cy="30.1" r="2.35"/><circle cx="412.7" cy="30.8" r="2.35"/><circle cx="413.5" cy="30.3" r="2.35"/><circle cx="413.6" cy="30.1" r="2.35"/><circle cx="420.0" cy="29.5" r="2.35"/><circle cx="420.6" cy="30.4" r="2.35"/><circle cx="421.4" cy="30.1" r="2.35"/><circle cx="435.1" cy="29.7" r="2.35"/><circle cx="435.8" cy="31.1" r="2.35"/><circle cx="435.3" cy="31.9" r="2.35"/><circle cx="433.0" cy="28.2" r="2.35"/><circle cx="436.3" cy="28.2" r="2.35"/><circle cx="442.4" cy="29.6" r="2.35"/><circle cx="440.5" cy="31.8" r="2.35"/><circle cx="441.0" cy="30.3" r="2.35"/><circle cx="442.6" cy="31.8" r="2.35"/><circle cx="442.7" cy="29.6" r="2.35"/><circle cx="447.9" cy="32.0" r="2.35"/><circle cx="213.0" cy="32.6" r="2.35"/><circle cx="218.9" cy="32.8" r="2.35"/><circle cx="227.7" cy="35.5" r="2.35"/><circle cx="229.8" cy="32.4" r="2.35"/><circle cx="233.4" cy="35.3" r="2.35"/><circle cx="233.9" cy="34.5" r="2.35"/><circle cx="232.6" cy="32.9" r="2.35"/><circle cx="243.5" cy="33.1" r="2.35"/><circle cx="241.6" cy="32.6" r="2.35"/><circle cx="245.3" cy="32.7" r="2.35"/><circle cx="251.6" cy="32.5" r="2.35"/><circle cx="255.6" cy="34.7" r="2.35"/><circle cx="261.0" cy="32.8" r="2.35"/><circle cx="265.2" cy="35.6" r="2.35"/><circle cx="264.2" cy="34.9" r="2.35"/><circle cx="265.2" cy="35.9" r="2.35"/><circle cx="264.1" cy="35.2" r="2.35"/><circle cx="268.0" cy="35.3" r="2.35"/><circle cx="273.7" cy="35.6" r="2.35"/><circle cx="280.7" cy="35.1" r="2.35"/><circle cx="284.3" cy="32.3" r="2.35"/><circle cx="288.8" cy="34.4" r="2.35"/><circle cx="290.8" cy="35.2" r="2.35"/><circle cx="294.9" cy="33.6" r="2.35"/><circle cx="294.9" cy="32.2" r="2.35"/><circle cx="410.1" cy="34.1" r="2.35"/><circle cx="408.1" cy="35.9" r="2.35"/><circle cx="408.9" cy="32.7" r="2.35"/><circle cx="408.4" cy="33.0" r="2.35"/><circle cx="412.4" cy="34.8" r="2.35"/><circle cx="418.4" cy="34.3" r="2.35"/><circle cx="423.5" cy="34.9" r="2.35"/><circle cx="420.2" cy="32.5" r="2.35"/><circle cx="424.5" cy="33.6" r="2.35"/><circle cx="424.5" cy="34.4" r="2.35"/><circle cx="431.0" cy="32.7" r="2.35"/><circle cx="431.3" cy="35.8" r="2.35"/><circle cx="433.6" cy="35.8" r="2.35"/><circle cx="435.1" cy="33.4" r="2.35"/><circle cx="433.0" cy="33.3" r="2.35"/><circle cx="438.1" cy="35.8" r="2.35"/><circle cx="439.7" cy="33.0" r="2.35"/><circle cx="437.7" cy="34.5" r="2.35"/><circle cx="437.5" cy="34.1" r="2.35"/><circle cx="436.3" cy="33.7" r="2.35"/><circle cx="438.0" cy="32.1" r="2.35"/><circle cx="446.6" cy="33.1" r="2.35"/><circle cx="446.7" cy="33.1" r="2.35"/><circle cx="446.2" cy="35.7" r="2.35"/><circle cx="446.5" cy="33.0" r="2.35"/><circle cx="446.1" cy="33.7" r="2.35"/><circle cx="447.8" cy="33.2" r="2.35"/><circle cx="445.2" cy="34.6" r="2.35"/><circle cx="453.9" cy="34.1" r="2.35"/><circle cx="452.6" cy="32.5" r="2.35"/><circle cx="452.5" cy="33.2" r="2.35"/><circle cx="206.2" cy="38.0" r="2.35"/><circle cx="215.1" cy="36.6" r="2.35"/><circle cx="221.6" cy="37.8" r="2.35"/><circle cx="222.9" cy="36.4" r="2.35"/><circle cx="229.3" cy="37.4" r="2.35"/><circle cx="230.7" cy="38.5" r="2.35"/><circle cx="235.0" cy="39.0" r="2.35"/><circle cx="233.9" cy="39.1" r="2.35"/><circle cx="234.8" cy="39.7" r="2.35"/><circle cx="243.1" cy="38.3" r="2.35"/><circle cx="245.7" cy="39.1" r="2.35"/><circle cx="247.5" cy="38.4" r="2.35"/><circle cx="254.9" cy="37.2" r="2.35"/><circle cx="261.3" cy="39.1" r="2.35"/><circle cx="264.7" cy="37.2" r="2.35"/><circle cx="264.6" cy="38.3" r="2.35"/><circle cx="271.7" cy="37.3" r="2.35"/><circle cx="273.7" cy="39.6" r="2.35"/><circle cx="272.0" cy="36.2" r="2.35"/><circle cx="274.3" cy="38.0" r="2.35"/><circle cx="278.1" cy="38.7" r="2.35"/><circle cx="277.6" cy="37.4" r="2.35"/><circle cx="278.4" cy="37.4" r="2.35"/><circle cx="279.8" cy="38.7" r="2.35"/><circle cx="281.5" cy="37.6" r="2.35"/><circle cx="285.8" cy="38.5" r="2.35"/><circle cx="288.0" cy="37.4" r="2.35"/><circle cx="286.1" cy="39.3" r="2.35"/><circle cx="284.7" cy="37.3" r="2.35"/><circle cx="291.6" cy="38.8" r="2.35"/><circle cx="291.3" cy="40.0" r="2.35"/><circle cx="291.6" cy="37.7" r="2.35"/><circle cx="294.0" cy="38.0" r="2.35"/><circle cx="408.7" cy="38.1" r="2.35"/><circle cx="411.3" cy="38.5" r="2.35"/><circle cx="415.1" cy="37.3" r="2.35"/><circle cx="414.9" cy="37.4" r="2.35"/><circle cx="416.4" cy="39.6" r="2.35"/><circle cx="420.2" cy="39.6" r="2.35"/><circle cx="422.3" cy="39.8" r="2.35"/><circle cx="421.8" cy="38.5" r="2.35"/><circle cx="427.7" cy="39.4" r="2.35"/><circle cx="430.4" cy="39.8" r="2.35"/><circle cx="430.0" cy="39.8" r="2.35"/><circle cx="429.0" cy="37.6" r="2.35"/><circle cx="435.5" cy="37.9" r="2.35"/><circle cx="435.2" cy="37.0" r="2.35"/><circle cx="436.7" cy="39.9" r="2.35"/><circle cx="442.1" cy="37.5" r="2.35"/><circle cx="441.6" cy="36.3" r="2.35"/><circle cx="448.8" cy="37.1" r="2.35"/><circle cx="448.9" cy="36.1" r="2.35"/><circle cx="452.6" cy="38.8" r="2.35"/><circle cx="205.5" cy="41.0" r="2.35"/><circle cx="218.1" cy="42.2" r="2.35"/><circle cx="226.6" cy="42.3" r="2.35"/><circle cx="246.7" cy="40.4" r="2.35"/><circle cx="268.5" cy="42.9" r="2.35"/><circle cx="275.6" cy="43.1" r="2.35"/><circle cx="277.1" cy="40.1" r="2.35"/><circle cx="278.7" cy="42.7" r="2.35"/><circle cx="282.6" cy="42.8" r="2.35"/><circle cx="288.7" cy="40.5" r="2.35"/><circle cx="291.7" cy="42.9" r="2.35"/><circle cx="292.2" cy="40.6" r="2.35"/><circle cx="297.5" cy="40.2" r="2.35"/><circle cx="409.7" cy="43.7" r="2.35"/><circle cx="410.8" cy="43.0" r="2.35"/><circle cx="411.3" cy="42.5" r="2.35"/><circle cx="409.8" cy="40.2" r="2.35"/><circle cx="415.0" cy="40.2" r="2.35"/><circle cx="414.8" cy="43.2" r="2.35"/><circle cx="413.0" cy="42.2" r="2.35"/><circle cx="415.9" cy="42.6" r="2.35"/><circle cx="417.4" cy="41.6" r="2.35"/><circle cx="416.8" cy="41.2" r="2.35"/><circle cx="421.0" cy="41.0" r="2.35"/><circle cx="422.1" cy="41.8" r="2.35"/><circle cx="426.3" cy="41.3" r="2.35"/><circle cx="427.3" cy="42.2" r="2.35"/><circle cx="427.0" cy="40.7" r="2.35"/><circle cx="426.7" cy="42.4" r="2.35"/><circle cx="429.2" cy="41.4" r="2.35"/><circle cx="428.8" cy="40.2" r="2.35"/><circle cx="429.1" cy="40.8" r="2.35"/><circle cx="433.3" cy="41.9" r="2.35"/><circle cx="433.5" cy="40.7" r="2.35"/><circle cx="446.9" cy="43.9" r="2.35"/><circle cx="446.3" cy="40.4" r="2.35"/><circle cx="448.8" cy="42.2" r="2.35"/><circle cx="214.0" cy="44.6" r="2.35"/><circle cx="213.2" cy="46.3" r="2.35"/><circle cx="232.2" cy="45.8" r="2.35"/><circle cx="251.1" cy="45.7" r="2.35"/><circle cx="275.3" cy="47.6" r="2.35"/><circle cx="282.3" cy="45.4" r="2.35"/><circle cx="295.6" cy="47.5" r="2.35"/><circle cx="295.9" cy="47.8" r="2.35"/><circle cx="298.7" cy="46.4" r="2.35"/><circle cx="297.2" cy="46.3" r="2.35"/><circle cx="301.4" cy="47.5" r="2.35"/><circle cx="300.1" cy="44.8" r="2.35"/><circle cx="302.7" cy="45.8" r="2.35"/><circle cx="411.5" cy="46.2" r="2.35"/><circle cx="410.9" cy="47.0" r="2.35"/><circle cx="415.3" cy="45.6" r="2.35"/><circle cx="412.7" cy="47.8" r="2.35"/><circle cx="414.3" cy="47.1" r="2.35"/><circle cx="416.9" cy="45.5" r="2.35"/><circle cx="416.1" cy="46.4" r="2.35"/><circle cx="422.8" cy="45.7" r="2.35"/><circle cx="427.0" cy="45.4" r="2.35"/><circle cx="427.1" cy="46.7" r="2.35"/><circle cx="427.3" cy="44.5" r="2.35"/><circle cx="425.5" cy="46.9" r="2.35"/><circle cx="427.8" cy="46.9" r="2.35"/><circle cx="424.2" cy="46.4" r="2.35"/><circle cx="431.2" cy="44.5" r="2.35"/><circle cx="433.8" cy="47.4" r="2.35"/><circle cx="434.3" cy="44.5" r="2.35"/><circle cx="432.1" cy="44.4" r="2.35"/><circle cx="437.2" cy="46.7" r="2.35"/><circle cx="437.5" cy="44.6" r="2.35"/><circle cx="441.4" cy="44.6" r="2.35"/><circle cx="442.0" cy="47.5" r="2.35"/><circle cx="443.2" cy="44.1" r="2.35"/><circle cx="440.7" cy="47.3" r="2.35"/><circle cx="442.7" cy="45.6" r="2.35"/><circle cx="447.4" cy="45.6" r="2.35"/><circle cx="449.3" cy="44.9" r="2.35"/><circle cx="451.6" cy="46.4" r="2.35"/><circle cx="214.2" cy="51.1" r="2.35"/><circle cx="218.5" cy="50.5" r="2.35"/><circle cx="233.2" cy="51.1" r="2.35"/><circle cx="235.0" cy="50.0" r="2.35"/><circle cx="265.5" cy="49.0" r="2.35"/><circle cx="286.3" cy="49.2" r="2.35"/><circle cx="284.7" cy="48.3" r="2.35"/><circle cx="290.9" cy="50.2" r="2.35"/><circle cx="292.3" cy="48.7" r="2.35"/><circle cx="294.3" cy="51.9" r="2.35"/><circle cx="293.4" cy="51.1" r="2.35"/><circle cx="297.9" cy="51.6" r="2.35"/><circle cx="297.1" cy="49.0" r="2.35"/><circle cx="306.8" cy="48.9" r="2.35"/><circle cx="408.2" cy="50.5" r="2.35"/><circle cx="409.3" cy="50.0" r="2.35"/><circle cx="415.7" cy="50.3" r="2.35"/><circle cx="416.0" cy="48.2" r="2.35"/><circle cx="414.5" cy="50.9" r="2.35"/><circle cx="416.6" cy="48.6" r="2.35"/><circle cx="421.7" cy="50.2" r="2.35"/><circle cx="422.4" cy="50.2" r="2.35"/><circle cx="426.8" cy="51.1" r="2.35"/><circle cx="427.1" cy="49.2" r="2.35"/><circle cx="427.1" cy="51.9" r="2.35"/><circle cx="425.8" cy="49.1" r="2.35"/><circle cx="428.0" cy="49.9" r="2.35"/><circle cx="430.6" cy="51.1" r="2.35"/><circle cx="435.0" cy="48.4" r="2.35"/><circle cx="432.1" cy="48.5" r="2.35"/><circle cx="443.8" cy="49.5" r="2.35"/><circle cx="440.6" cy="48.7" r="2.35"/><circle cx="444.1" cy="51.1" r="2.35"/><circle cx="445.0" cy="51.9" r="2.35"/><circle cx="451.2" cy="49.8" r="2.35"/><circle cx="449.3" cy="51.6" r="2.35"/><circle cx="194.3" cy="52.6" r="2.35"/><circle cx="263.1" cy="55.5" r="2.35"/><circle cx="268.1" cy="52.4" r="2.35"/><circle cx="271.9" cy="52.0" r="2.35"/><circle cx="274.9" cy="52.4" r="2.35"/><circle cx="281.4" cy="55.7" r="2.35"/><circle cx="284.9" cy="55.2" r="2.35"/><circle cx="286.8" cy="52.2" r="2.35"/><circle cx="286.0" cy="52.9" r="2.35"/><circle cx="288.1" cy="56.0" r="2.35"/><circle cx="293.9" cy="52.5" r="2.35"/><circle cx="293.7" cy="52.7" r="2.35"/><circle cx="299.0" cy="54.0" r="2.35"/><circle cx="304.9" cy="55.9" r="2.35"/><circle cx="307.5" cy="54.9" r="2.35"/><circle cx="305.1" cy="52.7" r="2.35"/><circle cx="413.0" cy="52.8" r="2.35"/><circle cx="412.5" cy="55.4" r="2.35"/><circle cx="415.1" cy="55.6" r="2.35"/><circle cx="412.2" cy="54.8" r="2.35"/><circle cx="419.9" cy="52.0" r="2.35"/><circle cx="419.0" cy="55.4" r="2.35"/><circle cx="418.0" cy="54.4" r="2.35"/><circle cx="422.8" cy="53.6" r="2.35"/><circle cx="422.1" cy="54.5" r="2.35"/><circle cx="422.7" cy="53.3" r="2.35"/><circle cx="422.5" cy="54.2" r="2.35"/><circle cx="427.6" cy="53.9" r="2.35"/><circle cx="426.9" cy="54.1" r="2.35"/><circle cx="431.7" cy="54.1" r="2.35"/><circle cx="430.1" cy="54.1" r="2.35"/><circle cx="435.3" cy="53.8" r="2.35"/><circle cx="434.6" cy="55.3" r="2.35"/><circle cx="437.5" cy="55.3" r="2.35"/><circle cx="439.3" cy="52.5" r="2.35"/><circle cx="445.4" cy="55.2" r="2.35"/><circle cx="448.4" cy="53.6" r="2.35"/><circle cx="455.2" cy="55.0" r="2.35"/><circle cx="452.6" cy="54.7" r="2.35"/><circle cx="453.5" cy="54.1" r="2.35"/><circle cx="265.5" cy="58.7" r="2.35"/><circle cx="278.1" cy="58.0" r="2.35"/><circle cx="282.4" cy="57.9" r="2.35"/><circle cx="281.8" cy="59.4" r="2.35"/><circle cx="289.8" cy="58.0" r="2.35"/><circle cx="295.0" cy="57.6" r="2.35"/><circle cx="292.2" cy="58.7" r="2.35"/><circle cx="296.9" cy="56.3" r="2.35"/><circle cx="299.3" cy="56.4" r="2.35"/><circle cx="296.4" cy="59.0" r="2.35"/><circle cx="302.7" cy="58.8" r="2.35"/><circle cx="306.8" cy="57.7" r="2.35"/><circle cx="309.3" cy="58.1" r="2.35"/><circle cx="308.0" cy="60.0" r="2.35"/><circle cx="309.1" cy="57.0" r="2.35"/><circle cx="309.3" cy="57.0" r="2.35"/><circle cx="411.2" cy="57.2" r="2.35"/><circle cx="410.8" cy="59.2" r="2.35"/><circle cx="410.4" cy="57.8" r="2.35"/><circle cx="411.7" cy="57.8" r="2.35"/><circle cx="414.6" cy="56.2" r="2.35"/><circle cx="415.5" cy="56.3" r="2.35"/><circle cx="418.0" cy="58.7" r="2.35"/><circle cx="418.7" cy="57.2" r="2.35"/><circle cx="416.8" cy="59.4" r="2.35"/><circle cx="416.6" cy="59.7" r="2.35"/><circle cx="420.4" cy="59.1" r="2.35"/><circle cx="427.6" cy="58.7" r="2.35"/><circle cx="424.6" cy="56.2" r="2.35"/><circle cx="426.8" cy="56.2" r="2.35"/><circle cx="430.3" cy="57.3" r="2.35"/><circle cx="430.2" cy="56.6" r="2.35"/><circle cx="435.2" cy="59.9" r="2.35"/><circle cx="433.6" cy="56.1" r="2.35"/><circle cx="433.5" cy="58.6" r="2.35"/><circle cx="436.4" cy="57.9" r="2.35"/><circle cx="443.3" cy="56.5" r="2.35"/><circle cx="443.7" cy="60.0" r="2.35"/><circle cx="443.8" cy="58.1" r="2.35"/><circle cx="447.0" cy="58.0" r="2.35"/><circle cx="449.9" cy="59.5" r="2.35"/><circle cx="452.6" cy="57.1" r="2.35"/><circle cx="263.4" cy="63.5" r="2.35"/><circle cx="278.0" cy="62.1" r="2.35"/><circle cx="293.5" cy="60.8" r="2.35"/><circle cx="311.8" cy="62.0" r="2.35"/><circle cx="311.2" cy="62.3" r="2.35"/><circle cx="310.8" cy="60.9" r="2.35"/><circle cx="311.0" cy="60.6" r="2.35"/><circle cx="313.6" cy="62.1" r="2.35"/><circle cx="410.9" cy="62.7" r="2.35"/><circle cx="408.6" cy="61.4" r="2.35"/><circle cx="412.9" cy="61.3" r="2.35"/><circle cx="418.5" cy="63.4" r="2.35"/><circle cx="419.1" cy="60.4" r="2.35"/><circle cx="418.9" cy="61.4" r="2.35"/><circle cx="416.6" cy="63.9" r="2.35"/><circle cx="418.7" cy="63.0" r="2.35"/><circle cx="416.5" cy="63.3" r="2.35"/><circle cx="419.7" cy="63.6" r="2.35"/><circle cx="419.0" cy="63.3" r="2.35"/><circle cx="419.2" cy="62.4" r="2.35"/><circle cx="423.8" cy="60.5" r="2.35"/><circle cx="423.9" cy="63.1" r="2.35"/><circle cx="421.0" cy="63.4" r="2.35"/><circle cx="420.9" cy="60.8" r="2.35"/><circle cx="421.8" cy="60.9" r="2.35"/><circle cx="422.0" cy="63.6" r="2.35"/><circle cx="427.3" cy="61.6" r="2.35"/><circle cx="424.3" cy="62.6" r="2.35"/><circle cx="427.3" cy="61.4" r="2.35"/><circle cx="426.4" cy="63.3" r="2.35"/><circle cx="427.2" cy="60.0" r="2.35"/><circle cx="426.0" cy="60.1" r="2.35"/><circle cx="429.7" cy="62.4" r="2.35"/><circle cx="433.4" cy="63.4" r="2.35"/><circle cx="434.5" cy="61.2" r="2.35"/><circle cx="442.6" cy="63.2" r="2.35"/><circle cx="440.5" cy="62.7" r="2.35"/><circle cx="449.1" cy="63.8" r="2.35"/><circle cx="283.0" cy="64.1" r="2.35"/><circle cx="294.4" cy="66.3" r="2.35"/><circle cx="292.2" cy="65.6" r="2.35"/><circle cx="297.1" cy="67.0" r="2.35"/><circle cx="307.9" cy="66.6" r="2.35"/><circle cx="310.8" cy="65.1" r="2.35"/><circle cx="308.6" cy="66.3" r="2.35"/><circle cx="311.3" cy="67.2" r="2.35"/><circle cx="309.4" cy="64.6" r="2.35"/><circle cx="315.0" cy="64.7" r="2.35"/><circle cx="313.2" cy="64.2" r="2.35"/><circle cx="409.1" cy="65.5" r="2.35"/><circle cx="411.7" cy="66.1" r="2.35"/><circle cx="409.2" cy="66.5" r="2.35"/><circle cx="409.0" cy="67.1" r="2.35"/><circle cx="408.2" cy="67.3" r="2.35"/><circle cx="412.3" cy="66.2" r="2.35"/><circle cx="415.0" cy="66.7" r="2.35"/><circle cx="413.7" cy="67.2" r="2.35"/><circle cx="412.4" cy="65.2" r="2.35"/><circle cx="417.6" cy="67.2" r="2.35"/><circle cx="417.4" cy="64.7" r="2.35"/><circle cx="419.5" cy="66.1" r="2.35"/><circle cx="418.1" cy="66.7" r="2.35"/><circle cx="419.6" cy="64.5" r="2.35"/><circle cx="417.4" cy="64.3" r="2.35"/><circle cx="417.7" cy="66.0" r="2.35"/><circle cx="419.4" cy="66.7" r="2.35"/><circle cx="423.4" cy="67.2" r="2.35"/><circle cx="423.4" cy="64.6" r="2.35"/><circle cx="422.7" cy="67.0" r="2.35"/><circle cx="426.8" cy="66.8" r="2.35"/><circle cx="426.4" cy="65.1" r="2.35"/><circle cx="424.3" cy="66.4" r="2.35"/><circle cx="427.3" cy="65.1" r="2.35"/><circle cx="424.9" cy="64.9" r="2.35"/><circle cx="424.4" cy="66.7" r="2.35"/><circle cx="427.9" cy="67.2" r="2.35"/><circle cx="431.4" cy="65.3" r="2.35"/><circle cx="428.0" cy="66.5" r="2.35"/><circle cx="432.2" cy="65.8" r="2.35"/><circle cx="439.3" cy="64.4" r="2.35"/><circle cx="436.9" cy="66.5" r="2.35"/><circle cx="442.3" cy="64.9" r="2.35"/><circle cx="447.4" cy="67.2" r="2.35"/><circle cx="451.1" cy="64.1" r="2.35"/><circle cx="452.3" cy="66.5" r="2.35"/><circle cx="304.2" cy="68.7" r="2.35"/><circle cx="305.4" cy="71.6" r="2.35"/><circle cx="308.4" cy="68.6" r="2.35"/><circle cx="311.1" cy="69.9" r="2.35"/><circle cx="312.4" cy="70.3" r="2.35"/><circle cx="314.0" cy="68.8" r="2.35"/><circle cx="313.0" cy="68.1" r="2.35"/><circle cx="315.6" cy="70.8" r="2.35"/><circle cx="315.8" cy="71.9" r="2.35"/><circle cx="316.5" cy="68.1" r="2.35"/><circle cx="316.9" cy="70.3" r="2.35"/><circle cx="317.5" cy="68.0" r="2.35"/><circle cx="319.3" cy="71.1" r="2.35"/><circle cx="409.9" cy="69.6" r="2.35"/><circle cx="410.7" cy="70.9" r="2.35"/><circle cx="409.0" cy="70.6" r="2.35"/><circle cx="414.4" cy="68.3" r="2.35"/><circle cx="413.0" cy="71.9" r="2.35"/><circle cx="412.9" cy="69.6" r="2.35"/><circle cx="416.4" cy="71.9" r="2.35"/><circle cx="419.2" cy="68.2" r="2.35"/><circle cx="416.2" cy="69.0" r="2.35"/><circle cx="419.7" cy="68.9" r="2.35"/><circle cx="420.1" cy="71.0" r="2.35"/><circle cx="420.4" cy="71.9" r="2.35"/><circle cx="422.8" cy="68.7" r="2.35"/><circle cx="423.2" cy="68.7" r="2.35"/><circle cx="422.0" cy="68.4" r="2.35"/><circle cx="427.4" cy="70.2" r="2.35"/><circle cx="427.3" cy="70.0" r="2.35"/><circle cx="426.5" cy="70.4" r="2.35"/><circle cx="428.2" cy="70.2" r="2.35"/><circle cx="432.0" cy="71.0" r="2.35"/><circle cx="440.5" cy="70.6" r="2.35"/><circle cx="440.8" cy="69.7" r="2.35"/><circle cx="448.4" cy="70.9" r="2.35"/><circle cx="451.4" cy="71.4" r="2.35"/><circle cx="279.7" cy="75.0" r="2.35"/><circle cx="285.1" cy="73.0" r="2.35"/><circle cx="303.1" cy="75.1" r="2.35"/><circle cx="303.6" cy="75.2" r="2.35"/><circle cx="307.3" cy="73.3" r="2.35"/><circle cx="310.1" cy="75.9" r="2.35"/><circle cx="314.6" cy="74.2" r="2.35"/><circle cx="316.8" cy="73.1" r="2.35"/><circle cx="319.6" cy="72.1" r="2.35"/><circle cx="317.0" cy="74.9" r="2.35"/><circle cx="320.0" cy="72.7" r="2.35"/><circle cx="317.8" cy="74.7" r="2.35"/><circle cx="408.4" cy="73.2" r="2.35"/><circle cx="409.6" cy="74.8" r="2.35"/><circle cx="409.8" cy="74.9" r="2.35"/><circle cx="408.4" cy="75.7" r="2.35"/><circle cx="409.4" cy="75.3" r="2.35"/><circle cx="417.1" cy="72.0" r="2.35"/><circle cx="416.8" cy="75.6" r="2.35"/><circle cx="416.6" cy="74.6" r="2.35"/><circle cx="418.3" cy="74.6" r="2.35"/><circle cx="420.4" cy="75.9" r="2.35"/><circle cx="424.9" cy="72.3" r="2.35"/><circle cx="424.1" cy="75.4" r="2.35"/><circle cx="435.2" cy="73.0" r="2.35"/><circle cx="433.5" cy="74.1" r="2.35"/><circle cx="432.4" cy="73.0" r="2.35"/><circle cx="437.5" cy="75.1" r="2.35"/><circle cx="319.9" cy="77.9" r="2.35"/><circle cx="316.7" cy="76.0" r="2.35"/><circle cx="321.9" cy="79.0" r="2.35"/><circle cx="322.1" cy="76.9" r="2.35"/><circle cx="407.8" cy="76.9" r="2.35"/><circle cx="405.9" cy="78.0" r="2.35"/><circle cx="407.8" cy="78.0" r="2.35"/><circle cx="408.0" cy="78.5" r="2.35"/><circle cx="404.9" cy="79.3" r="2.35"/><circle cx="411.8" cy="77.3" r="2.35"/><circle cx="409.6" cy="77.4" r="2.35"/><circle cx="410.7" cy="76.1" r="2.35"/><circle cx="415.3" cy="76.0" r="2.35"/><circle cx="418.2" cy="78.8" r="2.35"/><circle cx="416.6" cy="77.0" r="2.35"/><circle cx="424.5" cy="78.1" r="2.35"/><circle cx="428.9" cy="76.7" r="2.35"/><circle cx="430.3" cy="77.8" r="2.35"/><circle cx="435.4" cy="79.8" r="2.35"/><circle cx="433.1" cy="79.8" r="2.35"/><circle cx="439.7" cy="76.4" r="2.35"/><circle cx="288.9" cy="82.9" r="2.35"/><circle cx="316.5" cy="81.6" r="2.35"/><circle cx="322.3" cy="83.8" r="2.35"/><circle cx="324.7" cy="81.9" r="2.35"/><circle cx="324.1" cy="82.7" r="2.35"/><circle cx="324.6" cy="81.5" r="2.35"/><circle cx="394.1" cy="82.9" r="2.35"/><circle cx="396.0" cy="80.7" r="2.35"/><circle cx="400.9" cy="81.1" r="2.35"/><circle cx="404.5" cy="83.7" r="2.35"/><circle cx="407.9" cy="80.6" r="2.35"/><circle cx="409.7" cy="81.9" r="2.35"/><circle cx="409.0" cy="80.2" r="2.35"/><circle cx="427.2" cy="82.9" r="2.35"/><circle cx="425.4" cy="82.0" r="2.35"/><circle cx="312.2" cy="86.1" r="2.35"/><circle cx="320.5" cy="86.0" r="2.35"/><circle cx="322.1" cy="85.5" r="2.35"/><circle cx="322.9" cy="86.1" r="2.35"/><circle cx="324.3" cy="85.5" r="2.35"/><circle cx="384.1" cy="87.9" r="2.35"/><circle cx="387.6" cy="84.5" r="2.35"/><circle cx="388.3" cy="87.0" r="2.35"/><circle cx="391.1" cy="85.7" r="2.35"/><circle cx="399.9" cy="84.2" r="2.35"/><circle cx="400.4" cy="84.3" r="2.35"/><circle cx="400.7" cy="86.1" r="2.35"/><circle cx="404.7" cy="87.1" r="2.35"/><circle cx="408.5" cy="85.0" r="2.35"/><circle cx="413.0" cy="87.0" r="2.35"/><circle cx="417.2" cy="85.9" r="2.35"/><circle cx="418.9" cy="86.9" r="2.35"/><circle cx="416.5" cy="84.8" r="2.35"/><circle cx="419.8" cy="84.4" r="2.35"/><circle cx="304.6" cy="91.8" r="2.35"/><circle cx="310.6" cy="88.2" r="2.35"/><circle cx="313.8" cy="89.4" r="2.35"/><circle cx="317.4" cy="89.0" r="2.35"/><circle cx="316.4" cy="89.3" r="2.35"/><circle cx="316.1" cy="91.2" r="2.35"/><circle cx="320.3" cy="91.0" r="2.35"/><circle cx="325.6" cy="91.2" r="2.35"/><circle cx="331.6" cy="90.9" r="2.35"/><circle cx="329.2" cy="91.5" r="2.35"/><circle cx="330.3" cy="88.4" r="2.35"/><circle cx="330.3" cy="91.3" r="2.35"/><circle cx="332.8" cy="89.4" r="2.35"/><circle cx="333.5" cy="91.8" r="2.35"/><circle cx="334.8" cy="88.5" r="2.35"/><circle cx="335.7" cy="88.1" r="2.35"/><circle cx="375.5" cy="92.0" r="2.35"/><circle cx="373.7" cy="89.5" r="2.35"/><circle cx="374.8" cy="91.7" r="2.35"/><circle cx="377.3" cy="90.9" r="2.35"/><circle cx="382.7" cy="88.6" r="2.35"/><circle cx="383.8" cy="92.0" r="2.35"/><circle cx="387.6" cy="90.2" r="2.35"/><circle cx="387.0" cy="91.5" r="2.35"/><circle cx="388.1" cy="90.0" r="2.35"/><circle cx="391.6" cy="91.6" r="2.35"/><circle cx="394.5" cy="91.2" r="2.35"/><circle cx="393.7" cy="90.4" r="2.35"/><circle cx="393.0" cy="89.1" r="2.35"/><circle cx="393.7" cy="90.1" r="2.35"/><circle cx="396.0" cy="89.4" r="2.35"/><circle cx="401.0" cy="90.1" r="2.35"/><circle cx="400.7" cy="90.4" r="2.35"/><circle cx="406.3" cy="90.9" r="2.35"/><circle cx="411.4" cy="91.7" r="2.35"/><circle cx="408.2" cy="91.8" r="2.35"/><circle cx="409.8" cy="88.3" r="2.35"/><circle cx="305.5" cy="95.4" r="2.35"/><circle cx="310.7" cy="93.4" r="2.35"/><circle cx="313.6" cy="92.7" r="2.35"/><circle cx="321.3" cy="93.9" r="2.35"/><circle cx="322.0" cy="93.5" r="2.35"/><circle cx="325.9" cy="93.3" r="2.35"/><circle cx="325.5" cy="94.4" r="2.35"/><circle cx="327.1" cy="93.0" r="2.35"/><circle cx="325.5" cy="93.6" r="2.35"/><circle cx="329.3" cy="95.3" r="2.35"/><circle cx="328.6" cy="94.8" r="2.35"/><circle cx="328.1" cy="92.8" r="2.35"/><circle cx="336.2" cy="93.1" r="2.35"/><circle cx="338.9" cy="94.9" r="2.35"/><circle cx="343.7" cy="93.7" r="2.35"/><circle cx="340.8" cy="95.0" r="2.35"/><circle cx="343.4" cy="93.5" r="2.35"/><circle cx="340.4" cy="95.5" r="2.35"/><circle cx="344.2" cy="92.5" r="2.35"/><circle cx="344.1" cy="94.8" r="2.35"/><circle cx="346.5" cy="92.4" r="2.35"/><circle cx="350.4" cy="94.7" r="2.35"/><circle cx="353.0" cy="92.9" r="2.35"/><circle cx="355.9" cy="96.0" r="2.35"/><circle cx="354.8" cy="92.7" r="2.35"/><circle cx="352.7" cy="92.6" r="2.35"/><circle cx="358.1" cy="94.7" r="2.35"/><circle cx="356.1" cy="93.8" r="2.35"/><circle cx="361.6" cy="95.8" r="2.35"/><circle cx="363.4" cy="95.7" r="2.35"/><circle cx="362.2" cy="92.6" r="2.35"/><circle cx="360.7" cy="93.5" r="2.35"/><circle cx="362.8" cy="92.0" r="2.35"/><circle cx="367.2" cy="93.7" r="2.35"/><circle cx="366.7" cy="94.3" r="2.35"/><circle cx="366.9" cy="93.6" r="2.35"/><circle cx="369.1" cy="95.6" r="2.35"/><circle cx="371.2" cy="95.2" r="2.35"/><circle cx="371.3" cy="96.0" r="2.35"/><circle cx="370.8" cy="93.3" r="2.35"/><circle cx="371.0" cy="93.0" r="2.35"/><circle cx="375.4" cy="94.0" r="2.35"/><circle cx="379.7" cy="95.0" r="2.35"/><circle cx="376.6" cy="95.0" r="2.35"/><circle cx="383.7" cy="92.3" r="2.35"/><circle cx="383.1" cy="92.4" r="2.35"/><circle cx="381.1" cy="92.5" r="2.35"/><circle cx="386.9" cy="94.6" r="2.35"/><circle cx="384.4" cy="94.0" r="2.35"/><circle cx="386.9" cy="92.9" r="2.35"/><circle cx="389.5" cy="95.7" r="2.35"/><circle cx="395.2" cy="95.0" r="2.35"/><circle cx="393.8" cy="95.5" r="2.35"/><circle cx="393.6" cy="95.8" r="2.35"/><circle cx="399.0" cy="92.6" r="2.35"/><circle cx="404.0" cy="94.2" r="2.35"/><circle cx="316.6" cy="99.5" r="2.35"/><circle cx="326.3" cy="99.9" r="2.35"/><circle cx="325.5" cy="98.2" r="2.35"/><circle cx="328.8" cy="96.5" r="2.35"/><circle cx="335.8" cy="98.7" r="2.35"/><circle cx="333.4" cy="99.8" r="2.35"/><circle cx="338.4" cy="97.2" r="2.35"/><circle cx="339.9" cy="97.0" r="2.35"/><circle cx="339.9" cy="96.3" r="2.35"/><circle cx="336.0" cy="98.2" r="2.35"/><circle cx="340.5" cy="99.3" r="2.35"/><circle cx="344.2" cy="97.7" r="2.35"/><circle cx="347.9" cy="97.3" r="2.35"/><circle cx="346.3" cy="96.0" r="2.35"/><circle cx="345.7" cy="99.6" r="2.35"/><circle cx="346.4" cy="99.3" r="2.35"/><circle cx="344.1" cy="96.8" r="2.35"/><circle cx="351.7" cy="97.1" r="2.35"/><circle cx="351.5" cy="98.1" r="2.35"/><circle cx="354.8" cy="96.3" r="2.35"/><circle cx="355.3" cy="99.9" r="2.35"/><circle cx="361.5" cy="98.6" r="2.35"/><circle cx="363.8" cy="100.0" r="2.35"/><circle cx="366.9" cy="98.2" r="2.35"/><circle cx="365.4" cy="99.6" r="2.35"/><circle cx="365.0" cy="96.6" r="2.35"/><circle cx="370.4" cy="99.2" r="2.35"/><circle cx="374.3" cy="98.2" r="2.35"/><circle cx="376.2" cy="97.7" r="2.35"/><circle cx="376.9" cy="99.0" r="2.35"/><circle cx="381.0" cy="96.4" r="2.35"/><circle cx="385.3" cy="99.1" r="2.35"/><circle cx="300.4" cy="102.0" r="2.35"/><circle cx="323.7" cy="103.3" r="2.35"/><circle cx="325.9" cy="100.5" r="2.35"/><circle cx="331.9" cy="100.2" r="2.35"/><circle cx="330.9" cy="103.2" r="2.35"/><circle cx="338.3" cy="102.9" r="2.35"/><circle cx="342.8" cy="101.1" r="2.35"/><circle cx="343.9" cy="101.8" r="2.35"/><circle cx="355.5" cy="102.9" r="2.35"/><circle cx="352.5" cy="101.5" r="2.35"/><circle cx="354.7" cy="100.0" r="2.35"/><circle cx="363.6" cy="103.1" r="2.35"/><circle cx="363.5" cy="102.4" r="2.35"/><circle cx="363.9" cy="102.6" r="2.35"/><circle cx="366.1" cy="101.9" r="2.35"/><circle cx="365.3" cy="101.5" r="2.35"/><circle cx="369.1" cy="102.0" r="2.35"/><circle cx="370.0" cy="101.7" r="2.35"/><circle cx="374.1" cy="101.1" r="2.35"/><circle cx="377.0" cy="103.7" r="2.35"/><circle cx="378.0" cy="101.5" r="2.35"/><circle cx="377.2" cy="101.6" r="2.35"/><circle cx="382.9" cy="100.9" r="2.35"/><circle cx="381.8" cy="101.4" r="2.35"/><circle cx="334.3" cy="106.3" r="2.35"/><circle cx="333.3" cy="104.1" r="2.35"/><circle cx="340.5" cy="104.9" r="2.35"/><circle cx="341.2" cy="105.7" r="2.35"/><circle cx="347.9" cy="105.0" r="2.35"/><circle cx="347.4" cy="105.0" r="2.35"/><circle cx="348.2" cy="107.2" r="2.35"/><circle cx="355.1" cy="105.9" r="2.35"/><circle cx="357.5" cy="104.9" r="2.35"/><circle cx="361.5" cy="107.2" r="2.35"/><circle cx="360.4" cy="105.0" r="2.35"/><circle cx="363.0" cy="105.8" r="2.35"/><circle cx="365.8" cy="104.9" r="2.35"/><circle cx="332.9" cy="109.8" r="2.35"/><circle cx="339.0" cy="109.5" r="2.35"/><circle cx="346.4" cy="108.1" r="2.35"/><circle cx="347.7" cy="111.9" r="2.35"/><circle cx="346.9" cy="109.1" r="2.35"/><circle cx="351.3" cy="110.1" r="2.35"/><circle cx="359.3" cy="110.8" r="2.35"/><circle cx="360.8" cy="111.6" r="2.35"/><circle cx="331.3" cy="114.2" r="2.35"/><circle cx="347.5" cy="115.1" r="2.35"/><circle cx="349.7" cy="114.7" r="2.35"/><circle cx="352.4" cy="113.6" r="2.35"/><circle cx="330.6" cy="118.2" r="2.35"/><circle cx="349.5" cy="119.5" r="2.35"/><circle cx="354.5" cy="118.5" r="2.35"/><circle cx="356.5" cy="117.2" r="2.35"/><circle cx="336.0" cy="125.9" r="2.35"/><circle cx="335.4" cy="125.0" r="2.35"/><circle cx="347.5" cy="125.1" r="2.35"/><circle cx="349.8" cy="134.2" r="2.35"/><circle cx="357.9" cy="134.5" r="2.35"/><circle cx="359.4" cy="143.3" r="2.35"/>
</g>
<g fill="#2249aa"><circle cx="98.2" cy="267.2" r="2.35"/><circle cx="95.5" cy="271.6" r="2.35"/><circle cx="104.4" cy="277.0" r="2.35"/><circle cx="111.5" cy="278.7" r="2.35"/><circle cx="102.6" cy="290.3" r="2.35"/><circle cx="113.3" cy="289.4" r="2.35"/><circle cx="104.4" cy="297.4" r="2.35"/><circle cx="92.0" cy="294.7" r="2.35"/><circle cx="108.0" cy="283.2" r="2.35"/><circle cx="115.1" cy="283.2" r="2.35"/><circle cx="89.3" cy="276.1" r="2.35"/><circle cx="88.4" cy="283.2" r="2.35"/><circle cx="92.9" cy="288.5" r="2.35"/><circle cx="108.8" cy="293.8" r="2.35"/><circle cx="100.0" cy="276.1" r="2.35"/><circle cx="107.1" cy="271.6" r="2.35"/><circle cx="113.3" cy="269.9" r="2.35"/><circle cx="116.8" cy="266.3" r="2.35"/><circle cx="173.1" cy="114.1" r="2.35"/><circle cx="70.6" cy="149.0" r="2.35"/><circle cx="83.3" cy="163.8" r="2.35"/><circle cx="87.7" cy="174.8" r="2.35"/><circle cx="108.2" cy="186.0" r="2.35"/><circle cx="137.6" cy="173.7" r="2.35"/><circle cx="133.8" cy="186.8" r="2.35"/><circle cx="125.8" cy="191.3" r="2.35"/><circle cx="102.5" cy="196.1" r="2.35"/><circle cx="117.1" cy="201.4" r="2.35"/><circle cx="103.8" cy="206.1" r="2.35"/><circle cx="97.0" cy="208.0" r="2.35"/><circle cx="92.3" cy="210.9" r="2.35"/><circle cx="82.8" cy="211.8" r="2.35"/><circle cx="214.1" cy="190.2" r="2.35"/><circle cx="82.9" cy="212.5" r="2.35"/><circle cx="92.8" cy="211.3" r="2.35"/><circle cx="97.1" cy="219.5" r="2.35"/><circle cx="104.9" cy="220.5" r="2.35"/><circle cx="90.1" cy="222.7" r="2.35"/><circle cx="91.1" cy="222.3" r="2.35"/><circle cx="100.0" cy="223.1" r="2.35"/><circle cx="100.9" cy="224.6" r="2.35"/><circle cx="108.7" cy="224.4" r="2.35"/><circle cx="112.5" cy="224.4" r="2.35"/><circle cx="113.1" cy="226.8" r="2.35"/><circle cx="115.5" cy="230.7" r="2.35"/><circle cx="118.4" cy="231.6" r="2.35"/><circle cx="97.1" cy="231.9" r="2.35"/><circle cx="97.2" cy="235.0" r="2.35"/><circle cx="104.2" cy="236.9" r="2.35"/><circle cx="119.5" cy="237.3" r="2.35"/><circle cx="79.9" cy="243.7" r="2.35"/><circle cx="98.1" cy="243.0" r="2.35"/><circle cx="107.0" cy="244.1" r="2.35"/><circle cx="104.5" cy="245.6" r="2.35"/><circle cx="98.1" cy="247.5" r="2.35"/><circle cx="100.0" cy="248.1" r="2.35"/><circle cx="103.2" cy="248.1" r="2.35"/><circle cx="105.7" cy="247.5" r="2.35"/><circle cx="108.3" cy="248.1" r="2.35"/><circle cx="118.4" cy="247.5" r="2.35"/><circle cx="91.8" cy="248.5" r="2.35"/><circle cx="89.9" cy="249.4" r="2.35"/><circle cx="87.3" cy="250.7" r="2.35"/><circle cx="84.5" cy="251.9" r="2.35"/><circle cx="113.4" cy="250.0" r="2.35"/><circle cx="98.1" cy="251.3" r="2.35"/><circle cx="101.9" cy="250.7" r="2.35"/><circle cx="105.1" cy="250.7" r="2.35"/><circle cx="108.9" cy="251.3" r="2.35"/><circle cx="138.2" cy="223.1" r="2.35"/><circle cx="155.6" cy="230.3" r="2.35"/><circle cx="120.0" cy="231.6" r="2.35"/><circle cx="120.0" cy="237.3" r="2.35"/><circle cx="148.6" cy="243.7" r="2.35"/><circle cx="145.0" cy="246.5" r="2.35"/><circle cx="120.0" cy="247.5" r="2.35"/><circle cx="62.8" cy="268.0" r="2.35"/><circle cx="74.6" cy="256.0" r="2.35"/><circle cx="79.3" cy="276.7" r="2.35"/><circle cx="78.2" cy="280.5" r="2.35"/><circle cx="81.0" cy="290.9" r="2.35"/><circle cx="84.8" cy="251.9" r="2.35"/><circle cx="87.3" cy="250.6" r="2.35"/><circle cx="90.5" cy="250.0" r="2.35"/><circle cx="98.1" cy="251.3" r="2.35"/><circle cx="100.7" cy="250.6" r="2.35"/><circle cx="108.3" cy="251.3" r="2.35"/><circle cx="110.8" cy="250.6" r="2.35"/><circle cx="114.6" cy="251.3" r="2.35"/><circle cx="96.2" cy="256.4" r="2.35"/><circle cx="93.0" cy="258.3" r="2.35"/><circle cx="94.3" cy="262.1" r="2.35"/><circle cx="107.0" cy="256.4" r="2.35"/><circle cx="105.7" cy="259.5" r="2.35"/><circle cx="106.0" cy="262.1" r="2.35"/><circle cx="115.9" cy="255.1" r="2.35"/><circle cx="118.4" cy="256.4" r="2.35"/><circle cx="119.7" cy="258.9" r="2.35"/><circle cx="89.9" cy="265.2" r="2.35"/><circle cx="86.7" cy="267.2" r="2.35"/><circle cx="83.3" cy="269.3" r="2.35"/><circle cx="85.4" cy="271.6" r="2.35"/><circle cx="87.3" cy="269.7" r="2.35"/><circle cx="90.5" cy="270.3" r="2.35"/><circle cx="86.0" cy="274.8" r="2.35"/><circle cx="84.8" cy="273.5" r="2.35"/><circle cx="88.0" cy="277.3" r="2.35"/><circle cx="87.3" cy="280.5" r="2.35"/><circle cx="90.5" cy="279.2" r="2.35"/><circle cx="92.4" cy="281.1" r="2.35"/><circle cx="86.0" cy="283.7" r="2.35"/><circle cx="88.6" cy="284.9" r="2.35"/><circle cx="84.8" cy="286.2" r="2.35"/><circle cx="91.8" cy="285.6" r="2.35"/><circle cx="94.3" cy="284.3" r="2.35"/><circle cx="96.8" cy="283.0" r="2.35"/><circle cx="86.7" cy="288.8" r="2.35"/><circle cx="90.5" cy="289.4" r="2.35"/><circle cx="96.2" cy="288.1" r="2.35"/><circle cx="98.1" cy="285.6" r="2.35"/><circle cx="100.0" cy="264.0" r="2.35"/><circle cx="103.2" cy="266.5" r="2.35"/><circle cx="100.7" cy="271.0" r="2.35"/><circle cx="102.6" cy="272.9" r="2.35"/><circle cx="104.5" cy="270.3" r="2.35"/><circle cx="106.4" cy="269.1" r="2.35"/><circle cx="103.8" cy="275.4" r="2.35"/><circle cx="101.9" cy="278.0" r="2.35"/><circle cx="101.3" cy="281.1" r="2.35"/><circle cx="104.5" cy="279.9" r="2.35"/><circle cx="106.4" cy="277.3" r="2.35"/><circle cx="108.3" cy="274.8" r="2.35"/><circle cx="108.9" cy="271.6" r="2.35"/><circle cx="110.8" cy="265.2" r="2.35"/><circle cx="112.1" cy="267.8" r="2.35"/><circle cx="114.0" cy="269.7" r="2.35"/><circle cx="111.5" cy="272.2" r="2.35"/><circle cx="114.6" cy="273.5" r="2.35"/><circle cx="112.7" cy="276.0" r="2.35"/><circle cx="115.9" cy="277.3" r="2.35"/><circle cx="110.2" cy="278.6" r="2.35"/><circle cx="113.4" cy="279.9" r="2.35"/><circle cx="117.8" cy="275.4" r="2.35"/><circle cx="119.1" cy="272.9" r="2.35"/><circle cx="110.8" cy="283.7" r="2.35"/><circle cx="107.6" cy="284.3" r="2.35"/><circle cx="105.1" cy="286.2" r="2.35"/><circle cx="101.9" cy="287.5" r="2.35"/><circle cx="98.1" cy="282.4" r="2.35"/><circle cx="119.1" cy="280.5" r="2.35"/><circle cx="116.5" cy="288.1" r="2.35"/><circle cx="108.3" cy="290.7" r="2.35"/><circle cx="109.6" cy="292.6" r="2.35"/><circle cx="123.2" cy="256.0" r="2.35"/><circle cx="121.9" cy="266.3" r="2.35"/><circle cx="125.1" cy="266.9" r="2.35"/><circle cx="121.3" cy="273.5" r="2.35"/><circle cx="120.6" cy="275.4" r="2.35"/><circle cx="126.4" cy="277.1" r="2.35"/><circle cx="120.6" cy="280.5" r="2.35"/><circle cx="123.6" cy="285.6" r="2.35"/><circle cx="121.0" cy="291.3" r="2.35"/><circle cx="148.6" cy="273.8" r="2.35"/><circle cx="153.7" cy="279.2" r="2.35"/><circle cx="147.1" cy="283.4" r="2.35"/><circle cx="154.3" cy="287.7" r="2.35"/><circle cx="162.6" cy="276.7" r="2.35"/><circle cx="80.9" cy="291.2" r="2.35"/><circle cx="77.8" cy="296.6" r="2.35"/><circle cx="82.6" cy="295.7" r="2.35"/><circle cx="86.0" cy="290.6" r="2.35"/><circle cx="87.3" cy="288.1" r="2.35"/><circle cx="89.2" cy="285.5" r="2.35"/><circle cx="86.6" cy="298.9" r="2.35"/><circle cx="89.8" cy="300.8" r="2.35"/><circle cx="92.4" cy="302.0" r="2.35"/><circle cx="90.5" cy="296.3" r="2.35"/><circle cx="88.6" cy="293.8" r="2.35"/><circle cx="93.0" cy="293.2" r="2.35"/><circle cx="96.8" cy="291.9" r="2.35"/><circle cx="98.1" cy="297.0" r="2.35"/><circle cx="100.6" cy="299.5" r="2.35"/><circle cx="99.3" cy="302.0" r="2.35"/><circle cx="102.5" cy="302.0" r="2.35"/><circle cx="96.2" cy="299.5" r="2.35"/><circle cx="101.9" cy="286.8" r="2.35"/><circle cx="104.4" cy="289.3" r="2.35"/><circle cx="107.0" cy="286.8" r="2.35"/><circle cx="98.1" cy="285.5" r="2.35"/><circle cx="94.9" cy="284.3" r="2.35"/><circle cx="91.1" cy="286.8" r="2.35"/><circle cx="108.2" cy="293.2" r="2.35"/><circle cx="110.1" cy="295.7" r="2.35"/><circle cx="112.0" cy="297.0" r="2.35"/><circle cx="113.3" cy="294.4" r="2.35"/><circle cx="112.0" cy="302.0" r="2.35"/><circle cx="105.7" cy="297.0" r="2.35"/><circle cx="105.1" cy="300.1" r="2.35"/><circle cx="110.1" cy="284.3" r="2.35"/><circle cx="115.8" cy="290.6" r="2.35"/><circle cx="123.6" cy="285.5" r="2.35"/><circle cx="121.0" cy="291.6" r="2.35"/><circle cx="122.3" cy="297.0" r="2.35"/><circle cx="128.2" cy="297.0" r="2.35"/><circle cx="122.8" cy="302.3" r="2.35"/><circle cx="133.1" cy="302.4" r="2.35"/><circle cx="147.0" cy="283.6" r="2.35"/><circle cx="154.5" cy="288.1" r="2.35"/><circle cx="202.0" cy="293.8" r="2.35"/><circle cx="162.3" cy="277.0" r="2.35"/></g>
<g fill="#676291"><circle cx="116.4" cy="169.3" r="2.35"/><circle cx="125.8" cy="201.6" r="2.35"/><circle cx="153.0" cy="193.4" r="2.35"/><circle cx="156.8" cy="201.2" r="2.35"/><circle cx="181.6" cy="180.1" r="2.35"/><circle cx="209.9" cy="176.9" r="2.35"/><circle cx="214.5" cy="174.1" r="2.35"/><circle cx="227.2" cy="177.5" r="2.35"/><circle cx="199.1" cy="183.6" r="2.35"/><circle cx="203.3" cy="181.7" r="2.35"/><circle cx="206.1" cy="185.3" r="2.35"/><circle cx="204.4" cy="188.1" r="2.35"/><circle cx="232.9" cy="186.8" r="2.35"/><circle cx="250.9" cy="190.6" r="2.35"/><circle cx="113.0" cy="246.6" r="2.35"/><circle cx="104.5" cy="252.6" r="2.35"/><circle cx="139.7" cy="220.2" r="2.35"/><circle cx="148.0" cy="216.7" r="2.35"/><circle cx="151.8" cy="224.2" r="2.35"/><circle cx="141.9" cy="232.6" r="2.35"/><circle cx="124.2" cy="237.6" r="2.35"/><circle cx="158.1" cy="235.2" r="2.35"/><circle cx="153.0" cy="240.9" r="2.35"/><circle cx="151.1" cy="246.8" r="2.35"/><circle cx="158.1" cy="247.2" r="2.35"/><circle cx="129.9" cy="252.6" r="2.35"/><circle cx="154.9" cy="252.6" r="2.35"/><circle cx="233.4" cy="217.0" r="2.35"/><circle cx="237.4" cy="241.1" r="2.35"/><circle cx="104.5" cy="253.2" r="2.35"/><circle cx="94.1" cy="274.5" r="2.35"/><circle cx="113.1" cy="286.2" r="2.35"/><circle cx="93.3" cy="288.8" r="2.35"/><circle cx="115.9" cy="292.6" r="2.35"/><circle cx="130.2" cy="253.2" r="2.35"/><circle cx="139.9" cy="258.9" r="2.35"/><circle cx="146.7" cy="259.1" r="2.35"/><circle cx="148.6" cy="257.9" r="2.35"/><circle cx="154.9" cy="253.6" r="2.35"/><circle cx="133.3" cy="265.2" r="2.35"/><circle cx="128.3" cy="269.7" r="2.35"/><circle cx="142.9" cy="269.1" r="2.35"/><circle cx="142.9" cy="276.3" r="2.35"/><circle cx="121.3" cy="284.3" r="2.35"/><circle cx="147.7" cy="288.1" r="2.35"/><circle cx="159.8" cy="290.0" r="2.35"/><circle cx="234.9" cy="254.8" r="2.35"/><circle cx="231.1" cy="269.9" r="2.35"/><circle cx="237.4" cy="285.6" r="2.35"/><circle cx="93.2" cy="288.7" r="2.35"/><circle cx="96.2" cy="295.4" r="2.35"/><circle cx="108.9" cy="295.7" r="2.35"/><circle cx="107.0" cy="299.5" r="2.35"/><circle cx="113.9" cy="286.6" r="2.35"/><circle cx="117.1" cy="292.5" r="2.35"/><circle cx="119.0" cy="293.8" r="2.35"/><circle cx="147.9" cy="288.3" r="2.35"/><circle cx="140.9" cy="297.6" r="2.35"/><circle cx="159.7" cy="290.0" r="2.35"/><circle cx="120.0" cy="295.1" r="2.35"/><circle cx="237.4" cy="285.5" r="2.35"/><circle cx="248.3" cy="229.2" r="2.35"/><circle cx="237.4" cy="241.7" r="2.35"/><circle cx="235.0" cy="254.4" r="2.35"/><circle cx="247.7" cy="257.0" r="2.35"/><circle cx="237.4" cy="285.4" r="2.35"/><circle cx="162.7" cy="246.8" r="2.35"/><circle cx="167.1" cy="245.9" r="2.35"/><circle cx="177.8" cy="246.8" r="2.35"/><circle cx="183.1" cy="245.9" r="2.35"/><circle cx="186.6" cy="246.8" r="2.35"/><circle cx="192.0" cy="247.7" r="2.35"/><circle cx="195.5" cy="245.9" r="2.35"/><circle cx="203.5" cy="246.8" r="2.35"/><circle cx="218.6" cy="246.8" r="2.35"/><circle cx="161.8" cy="250.3" r="2.35"/><circle cx="176.0" cy="250.3" r="2.35"/><circle cx="179.5" cy="252.1" r="2.35"/><circle cx="192.9" cy="250.3" r="2.35"/><circle cx="198.2" cy="251.2" r="2.35"/><circle cx="208.0" cy="251.2" r="2.35"/><circle cx="211.5" cy="253.0" r="2.35"/><circle cx="214.2" cy="250.3" r="2.35"/><circle cx="217.7" cy="252.1" r="2.35"/><circle cx="168.9" cy="255.7" r="2.35"/><circle cx="170.7" cy="253.9" r="2.35"/><circle cx="201.7" cy="253.9" r="2.35"/><circle cx="199.1" cy="255.7" r="2.35"/><circle cx="207.1" cy="256.5" r="2.35"/><circle cx="162.7" cy="258.3" r="2.35"/><circle cx="168.0" cy="259.2" r="2.35"/><circle cx="181.3" cy="258.3" r="2.35"/><circle cx="184.9" cy="257.4" r="2.35"/><circle cx="187.5" cy="256.5" r="2.35"/><circle cx="195.5" cy="258.3" r="2.35"/><circle cx="198.2" cy="260.1" r="2.35"/><circle cx="204.4" cy="259.2" r="2.35"/><circle cx="208.0" cy="261.0" r="2.35"/><circle cx="216.0" cy="261.9" r="2.35"/><circle cx="218.6" cy="262.8" r="2.35"/><circle cx="165.3" cy="261.9" r="2.35"/><circle cx="169.8" cy="261.9" r="2.35"/><circle cx="183.1" cy="261.9" r="2.35"/><circle cx="184.9" cy="263.7" r="2.35"/><circle cx="192.0" cy="261.9" r="2.35"/><circle cx="195.5" cy="262.8" r="2.35"/><circle cx="183.1" cy="266.3" r="2.35"/><circle cx="186.6" cy="268.1" r="2.35"/><circle cx="189.3" cy="267.2" r="2.35"/><circle cx="198.2" cy="267.2" r="2.35"/><circle cx="201.7" cy="266.3" r="2.35"/><circle cx="203.5" cy="269.0" r="2.35"/><circle cx="211.5" cy="266.3" r="2.35"/><circle cx="209.7" cy="269.0" r="2.35"/><circle cx="221.3" cy="268.1" r="2.35"/><circle cx="223.1" cy="269.9" r="2.35"/><circle cx="229.3" cy="270.8" r="2.35"/><circle cx="170.7" cy="270.8" r="2.35"/><circle cx="173.3" cy="272.5" r="2.35"/><circle cx="177.8" cy="270.8" r="2.35"/><circle cx="180.4" cy="272.5" r="2.35"/><circle cx="193.7" cy="271.6" r="2.35"/><circle cx="198.2" cy="272.5" r="2.35"/><circle cx="200.0" cy="270.8" r="2.35"/><circle cx="208.8" cy="272.5" r="2.35"/><circle cx="167.1" cy="275.2" r="2.35"/><circle cx="169.8" cy="277.0" r="2.35"/><circle cx="175.1" cy="275.2" r="2.35"/><circle cx="183.1" cy="276.1" r="2.35"/><circle cx="186.6" cy="275.2" r="2.35"/><circle cx="191.1" cy="277.0" r="2.35"/><circle cx="195.5" cy="277.0" r="2.35"/><circle cx="199.1" cy="276.1" r="2.35"/><circle cx="203.5" cy="275.2" r="2.35"/><circle cx="210.6" cy="276.1" r="2.35"/><circle cx="216.0" cy="277.0" r="2.35"/><circle cx="171.5" cy="279.6" r="2.35"/><circle cx="174.2" cy="281.4" r="2.35"/><circle cx="178.7" cy="279.6" r="2.35"/><circle cx="181.3" cy="281.4" r="2.35"/><circle cx="186.6" cy="279.6" r="2.35"/><circle cx="192.9" cy="280.5" r="2.35"/><circle cx="198.2" cy="279.6" r="2.35"/><circle cx="203.5" cy="281.4" r="2.35"/><circle cx="208.0" cy="279.6" r="2.35"/><circle cx="213.3" cy="280.5" r="2.35"/><circle cx="179.5" cy="283.2" r="2.35"/><circle cx="183.1" cy="285.0" r="2.35"/><circle cx="185.8" cy="283.2" r="2.35"/><circle cx="193.7" cy="285.0" r="2.35"/><circle cx="202.6" cy="285.0" r="2.35"/><circle cx="206.2" cy="283.2" r="2.35"/><circle cx="210.6" cy="285.9" r="2.35"/><circle cx="218.6" cy="286.7" r="2.35"/><circle cx="171.5" cy="286.7" r="2.35"/><circle cx="175.1" cy="288.5" r="2.35"/><circle cx="177.8" cy="287.6" r="2.35"/><circle cx="182.2" cy="288.5" r="2.35"/><circle cx="184.9" cy="286.7" r="2.35"/><circle cx="187.5" cy="288.5" r="2.35"/><circle cx="194.6" cy="288.5" r="2.35"/><circle cx="205.3" cy="288.5" r="2.35"/><circle cx="163.6" cy="293.0" r="2.35"/><circle cx="167.1" cy="293.8" r="2.35"/><circle cx="173.3" cy="292.1" r="2.35"/><circle cx="178.7" cy="291.2" r="2.35"/><circle cx="181.3" cy="293.0" r="2.35"/><circle cx="184.9" cy="291.2" r="2.35"/><circle cx="187.5" cy="293.0" r="2.35"/><circle cx="191.1" cy="292.1" r="2.35"/><circle cx="194.6" cy="293.0" r="2.35"/><circle cx="198.2" cy="291.2" r="2.35"/><circle cx="202.6" cy="293.0" r="2.35"/><circle cx="211.5" cy="292.1" r="2.35"/><circle cx="215.1" cy="293.0" r="2.35"/><circle cx="176.0" cy="295.6" r="2.35"/><circle cx="179.5" cy="296.5" r="2.35"/><circle cx="183.1" cy="295.6" r="2.35"/><circle cx="186.6" cy="296.5" r="2.35"/><circle cx="190.2" cy="295.6" r="2.35"/><circle cx="193.7" cy="296.5" r="2.35"/><circle cx="197.3" cy="295.6" r="2.35"/><circle cx="201.7" cy="296.5" r="2.35"/><circle cx="212.4" cy="297.4" r="2.35"/><circle cx="177.8" cy="299.2" r="2.35"/><circle cx="181.3" cy="300.1" r="2.35"/><circle cx="184.9" cy="299.2" r="2.35"/><circle cx="188.4" cy="300.1" r="2.35"/><circle cx="195.5" cy="299.2" r="2.35"/><circle cx="198.2" cy="301.0" r="2.35"/><circle cx="207.1" cy="301.0" r="2.35"/><circle cx="213.3" cy="301.8" r="2.35"/><circle cx="184.0" cy="302.7" r="2.35"/><circle cx="181.0" cy="193.6" r="2.35"/><circle cx="181.8" cy="198.9" r="2.35"/><circle cx="160.9" cy="203.9" r="2.35"/><circle cx="199.1" cy="195.3" r="2.35"/><circle cx="200.9" cy="198.0" r="2.35"/><circle cx="220.4" cy="196.7" r="2.35"/><circle cx="204.4" cy="201.5" r="2.35"/><circle cx="203.5" cy="205.1" r="2.35"/><circle cx="205.3" cy="208.7" r="2.35"/><circle cx="208.8" cy="209.2" r="2.35"/><circle cx="215.1" cy="206.9" r="2.35"/><circle cx="218.6" cy="207.8" r="2.35"/><circle cx="222.2" cy="206.3" r="2.35"/><circle cx="182.2" cy="210.4" r="2.35"/><circle cx="184.9" cy="212.2" r="2.35"/><circle cx="187.5" cy="210.4" r="2.35"/><circle cx="183.1" cy="214.9" r="2.35"/><circle cx="186.6" cy="215.8" r="2.35"/><circle cx="193.7" cy="212.2" r="2.35"/><circle cx="192.0" cy="214.9" r="2.35"/><circle cx="181.3" cy="218.4" r="2.35"/><circle cx="184.0" cy="219.3" r="2.35"/><circle cx="186.6" cy="220.2" r="2.35"/><circle cx="195.5" cy="216.6" r="2.35"/><circle cx="198.2" cy="219.3" r="2.35"/><circle cx="201.7" cy="216.6" r="2.35"/><circle cx="208.0" cy="214.9" r="2.35"/><circle cx="226.6" cy="214.0" r="2.35"/><circle cx="218.6" cy="210.4" r="2.35"/><circle cx="192.9" cy="222.0" r="2.35"/><circle cx="195.5" cy="222.9" r="2.35"/><circle cx="191.1" cy="224.6" r="2.35"/><circle cx="181.3" cy="224.6" r="2.35"/><circle cx="201.7" cy="222.0" r="2.35"/><circle cx="204.4" cy="221.1" r="2.35"/><circle cx="210.6" cy="223.7" r="2.35"/><circle cx="212.4" cy="222.9" r="2.35"/><circle cx="218.6" cy="222.0" r="2.35"/><circle cx="223.9" cy="222.9" r="2.35"/><circle cx="160.9" cy="222.0" r="2.35"/><circle cx="163.6" cy="228.2" r="2.35"/><circle cx="165.3" cy="230.0" r="2.35"/><circle cx="168.0" cy="228.2" r="2.35"/><circle cx="175.1" cy="228.2" r="2.35"/><circle cx="177.8" cy="229.1" r="2.35"/><circle cx="182.2" cy="230.0" r="2.35"/><circle cx="185.8" cy="229.1" r="2.35"/><circle cx="188.4" cy="230.9" r="2.35"/><circle cx="191.1" cy="228.2" r="2.35"/><circle cx="195.5" cy="228.2" r="2.35"/><circle cx="198.2" cy="230.0" r="2.35"/><circle cx="202.6" cy="226.4" r="2.35"/><circle cx="200.9" cy="231.7" r="2.35"/><circle cx="203.5" cy="233.5" r="2.35"/><circle cx="195.5" cy="233.5" r="2.35"/><circle cx="192.0" cy="234.4" r="2.35"/><circle cx="188.4" cy="234.4" r="2.35"/><circle cx="184.0" cy="233.5" r="2.35"/><circle cx="179.5" cy="232.6" r="2.35"/><circle cx="183.1" cy="237.1" r="2.35"/><circle cx="186.6" cy="238.0" r="2.35"/><circle cx="189.3" cy="238.8" r="2.35"/><circle cx="192.9" cy="238.0" r="2.35"/><circle cx="196.4" cy="237.1" r="2.35"/><circle cx="200.0" cy="236.2" r="2.35"/><circle cx="202.6" cy="237.1" r="2.35"/><circle cx="216.8" cy="232.6" r="2.35"/><circle cx="219.5" cy="234.4" r="2.35"/><circle cx="175.1" cy="239.7" r="2.35"/><circle cx="169.8" cy="241.5" r="2.35"/><circle cx="165.3" cy="240.6" r="2.35"/><circle cx="178.7" cy="242.4" r="2.35"/><circle cx="182.2" cy="241.5" r="2.35"/><circle cx="185.8" cy="242.4" r="2.35"/><circle cx="190.2" cy="242.4" r="2.35"/><circle cx="196.4" cy="241.5" r="2.35"/><circle cx="200.0" cy="240.6" r="2.35"/><circle cx="203.5" cy="246.0" r="2.35"/><circle cx="160.9" cy="247.7" r="2.35"/><circle cx="167.1" cy="246.0" r="2.35"/><circle cx="177.8" cy="246.8" r="2.35"/><circle cx="181.3" cy="246.8" r="2.35"/><circle cx="184.9" cy="247.7" r="2.35"/><circle cx="188.4" cy="246.8" r="2.35"/><circle cx="192.9" cy="247.7" r="2.35"/><circle cx="196.4" cy="247.7" r="2.35"/><circle cx="216.8" cy="246.8" r="2.35"/><circle cx="219.5" cy="245.1" r="2.35"/><circle cx="223.9" cy="242.4" r="2.35"/><circle cx="225.7" cy="241.5" r="2.35"/><circle cx="221.3" cy="247.7" r="2.35"/><circle cx="210.3" cy="247.7" r="2.35"/></g>
<g fill="#770b78"><circle cx="173.3" cy="73.1" r="2.35"/><circle cx="172.3" cy="95.9" r="2.35"/><circle cx="179.7" cy="101.2" r="2.35"/><circle cx="174.4" cy="110.5" r="2.35"/><circle cx="182.6" cy="123.2" r="2.35"/><circle cx="151.5" cy="150.5" r="2.35"/><circle cx="154.9" cy="155.1" r="2.35"/><circle cx="159.4" cy="175.8" r="2.35"/><circle cx="143.1" cy="203.3" r="2.35"/><circle cx="197.0" cy="149.0" r="2.35"/><circle cx="218.8" cy="156.4" r="2.35"/><circle cx="213.3" cy="158.9" r="2.35"/><circle cx="164.7" cy="179.0" r="2.35"/><circle cx="172.3" cy="186.8" r="2.35"/><circle cx="234.0" cy="182.6" r="2.35"/><circle cx="217.1" cy="186.8" r="2.35"/><circle cx="197.0" cy="187.5" r="2.35"/><circle cx="171.5" cy="246.8" r="2.35"/><circle cx="205.3" cy="256.0" r="2.35"/><circle cx="223.1" cy="261.3" r="2.35"/><circle cx="196.4" cy="263.3" r="2.35"/><circle cx="194.6" cy="269.9" r="2.35"/><circle cx="189.3" cy="271.6" r="2.35"/><circle cx="166.2" cy="272.5" r="2.35"/><circle cx="201.7" cy="274.0" r="2.35"/><circle cx="206.7" cy="279.3" r="2.35"/><circle cx="189.3" cy="283.7" r="2.35"/><circle cx="199.1" cy="284.4" r="2.35"/><circle cx="212.4" cy="285.0" r="2.35"/><circle cx="191.1" cy="287.6" r="2.35"/><circle cx="198.2" cy="289.4" r="2.35"/><circle cx="200.9" cy="290.3" r="2.35"/><circle cx="170.7" cy="298.3" r="2.35"/><circle cx="191.6" cy="301.0" r="2.35"/><circle cx="221.3" cy="245.0" r="2.35"/><circle cx="211.5" cy="245.0" r="2.35"/><circle cx="192.0" cy="192.1" r="2.35"/><circle cx="190.6" cy="196.2" r="2.35"/><circle cx="189.0" cy="200.3" r="2.35"/><circle cx="192.0" cy="205.6" r="2.35"/><circle cx="185.8" cy="207.4" r="2.35"/><circle cx="204.9" cy="191.8" r="2.35"/><circle cx="202.6" cy="203.9" r="2.35"/><circle cx="211.0" cy="205.6" r="2.35"/><circle cx="208.8" cy="214.0" r="2.35"/><circle cx="207.4" cy="215.8" r="2.35"/><circle cx="201.2" cy="216.3" r="2.35"/><circle cx="201.7" cy="219.3" r="2.35"/><circle cx="195.5" cy="218.4" r="2.35"/><circle cx="192.0" cy="214.0" r="2.35"/><circle cx="178.3" cy="217.5" r="2.35"/><circle cx="170.1" cy="219.8" r="2.35"/><circle cx="208.0" cy="226.4" r="2.35"/><circle cx="223.1" cy="229.1" r="2.35"/><circle cx="180.1" cy="231.2" r="2.35"/><circle cx="173.9" cy="232.1" r="2.35"/><circle cx="192.0" cy="232.3" r="2.35"/><circle cx="214.2" cy="235.8" r="2.35"/><circle cx="216.8" cy="237.6" r="2.35"/><circle cx="208.0" cy="240.1" r="2.35"/><circle cx="192.9" cy="242.9" r="2.35"/><circle cx="208.8" cy="243.3" r="2.35"/><circle cx="212.9" cy="243.6" r="2.35"/><circle cx="176.5" cy="243.6" r="2.35"/><circle cx="171.5" cy="246.5" r="2.35"/><circle cx="221.3" cy="244.2" r="2.35"/><circle cx="228.9" cy="236.5" r="2.35"/></g>
<g fill="#1b6f56"><circle cx="228.1" cy="21.8" r="2.35"/><circle cx="200.8" cy="36.2" r="2.35"/><circle cx="243.5" cy="50.3" r="2.35"/><circle cx="310.9" cy="23.7" r="2.35"/><circle cx="339.9" cy="57.2" r="2.35"/><circle cx="336.2" cy="70.6" r="2.35"/><circle cx="290.0" cy="86.9" r="2.35"/><circle cx="300.4" cy="97.0" r="2.35"/><circle cx="273.7" cy="128.1" r="2.35"/><circle cx="371.3" cy="141.5" r="2.35"/><circle cx="375.9" cy="140.9" r="2.35"/><circle cx="362.1" cy="153" r="2.35"/><circle cx="250.9" cy="169.9" r="2.35"/><circle cx="285.4" cy="150.9" r="2.35"/><circle cx="307.6" cy="150.9" r="2.35"/><circle cx="318.6" cy="154.1" r="2.35"/><circle cx="327.9" cy="162.7" r="2.35"/><circle cx="271" cy="173.9" r="2.35"/><circle cx="289.6" cy="178.4" r="2.35"/><circle cx="309.9" cy="174.3" r="2.35"/><circle cx="307.6" cy="179.8" r="2.35"/><circle cx="317.7" cy="181.1" r="2.35"/><circle cx="312.9" cy="185.6" r="2.35"/><circle cx="339.3" cy="175.2" r="2.35"/><circle cx="301.4" cy="191.5" r="2.35"/><circle cx="347.9" cy="202.9" r="2.35"/><circle cx="300.6" cy="210.1" r="2.35"/><circle cx="318.8" cy="208.4" r="2.35"/><circle cx="338.2" cy="209.6" r="2.35"/><circle cx="334.9" cy="218.9" r="2.35"/><circle cx="317.8" cy="227.8" r="2.35"/><circle cx="319.8" cy="231.6" r="2.35"/><circle cx="245.9" cy="223.3" r="2.35"/><circle cx="254.8" cy="226.3" r="2.35"/><circle cx="266" cy="226.3" r="2.35"/><circle cx="275.2" cy="233.4" r="2.35"/><circle cx="287.6" cy="239.3" r="2.35"/><circle cx="280.2" cy="241.7" r="2.35"/><circle cx="250.4" cy="245.5" r="2.35"/><circle cx="269.6" cy="253.5" r="2.35"/><circle cx="275.5" cy="255.5" r="2.35"/><circle cx="238" cy="296" r="2.35"/><circle cx="231.5" cy="239.6" r="2.35"/></g>
<g fill="#000"><polygon points="339.5,5.6 340.6,9.0 344.3,9.1 341.4,11.2 342.4,14.6 339.5,12.5 336.6,14.6 337.6,11.2 334.7,9.1 338.4,9.0"/><polygon points="324.0,11.3 325.1,14.7 328.8,14.8 325.9,16.9 326.9,20.3 324.0,18.2 321.1,20.3 322.1,16.9 319.2,14.8 322.9,14.7"/><polygon points="334.6,19.3 335.7,22.7 339.4,22.8 336.5,24.9 337.5,28.3 334.6,26.2 331.7,28.3 332.7,24.9 329.8,22.8 333.5,22.7"/><polygon points="350.0,25.7 351.1,29.1 354.8,29.2 351.9,31.3 352.9,34.7 350.0,32.6 347.1,34.7 348.1,31.3 345.2,29.2 348.9,29.1"/><polygon points="388.5,26.7 389.6,30.1 393.3,30.2 390.4,32.3 391.4,35.7 388.5,33.6 385.6,35.7 386.6,32.3 383.7,30.2 387.4,30.1"/><polygon points="346.2,35.2 347.3,38.6 351.0,38.7 348.1,40.8 349.1,44.2 346.2,42.2 343.3,44.2 344.3,40.8 341.4,38.7 345.1,38.6"/><polygon points="356.4,37.9 357.5,41.3 361.2,41.4 358.3,43.5 359.3,46.9 356.4,44.9 353.5,46.9 354.5,43.5 351.6,41.4 355.3,41.3"/><polygon points="324.7,41.9 325.8,45.3 329.5,45.4 326.6,47.5 327.6,50.9 324.7,48.9 321.8,50.9 322.8,47.5 319.9,45.4 323.6,45.3"/><polygon points="338.2,46.9 339.3,50.3 343.0,50.4 340.1,52.5 341.1,55.9 338.2,53.9 335.3,55.9 336.3,52.5 333.4,50.4 337.1,50.3"/><polygon points="347.8,45.9 348.9,49.3 352.6,49.4 349.7,51.5 350.7,54.9 347.8,52.9 344.9,54.9 345.9,51.5 343.0,49.4 346.7,49.3"/><polygon points="329.3,54.9 330.4,58.3 334.1,58.4 331.2,60.5 332.2,63.9 329.3,61.9 326.4,63.9 327.4,60.5 324.5,58.4 328.2,58.3"/><polygon points="339.9,56.8 341.0,60.2 344.7,60.3 341.8,62.4 342.8,65.8 339.9,63.8 337.0,65.8 338.0,62.4 335.1,60.3 338.8,60.2"/><polygon points="347.9,57.5 349.0,60.9 352.7,61.0 349.8,63.1 350.8,66.5 347.9,64.5 345.0,66.5 346.0,63.1 343.1,61.0 346.8,60.9"/><polygon points="321.7,60.6 322.8,64.0 326.5,64.1 323.6,66.2 324.6,69.6 321.7,67.5 318.8,69.6 319.8,66.2 316.9,64.1 320.6,64.0"/><polygon points="324.6,61.8 325.7,65.2 329.4,65.3 326.5,67.4 327.5,70.8 324.6,68.8 321.7,70.8 322.7,67.4 319.8,65.3 323.5,65.2"/><polygon points="332.0,61.2 333.1,64.6 336.8,64.7 333.9,66.8 334.9,70.2 332.0,68.2 329.1,70.2 330.1,66.8 327.2,64.7 330.9,64.6"/><polygon points="337.8,63.3 338.9,66.7 342.6,66.8 339.7,68.9 340.7,72.3 337.8,70.2 334.9,72.3 335.9,68.9 333.0,66.8 336.7,66.7"/><polygon points="348.3,61.0 349.4,64.4 353.1,64.5 350.2,66.6 351.2,70.0 348.3,68.0 345.4,70.0 346.4,66.6 343.5,64.5 347.2,64.4"/><polygon points="353.8,61.7 354.9,65.1 358.6,65.2 355.7,67.3 356.7,70.7 353.8,68.7 350.9,70.7 351.9,67.3 349.0,65.2 352.7,65.1"/><polygon points="343.7,66.8 344.8,70.2 348.5,70.3 345.6,72.4 346.6,75.8 343.7,73.8 340.8,75.8 341.8,72.4 338.9,70.3 342.6,70.2"/><polygon points="345.2,67.8 346.3,71.2 350.0,71.3 347.1,73.4 348.1,76.8 345.2,74.8 342.3,76.8 343.3,73.4 340.4,71.3 344.1,71.2"/><polygon points="349.4,67.8 350.5,71.2 354.2,71.3 351.3,73.4 352.3,76.8 349.4,74.8 346.5,76.8 347.5,73.4 344.6,71.3 348.3,71.2"/><polygon points="368.4,69.3 369.5,72.7 373.2,72.8 370.3,74.9 371.3,78.3 368.4,76.2 365.5,78.3 366.5,74.9 363.6,72.8 367.3,72.7"/><polygon points="328.9,71.8 330.0,75.2 333.7,75.3 330.8,77.4 331.8,80.8 328.9,78.8 326.0,80.8 327.0,77.4 324.1,75.3 327.8,75.2"/><polygon points="339.5,79.9 340.6,83.3 344.3,83.4 341.4,85.5 342.4,88.9 339.5,86.9 336.6,88.9 337.6,85.5 334.7,83.4 338.4,83.3"/><polygon points="318.1,85.8 319.2,89.2 322.9,89.3 320.0,91.4 321.0,94.8 318.1,92.8 315.2,94.8 316.2,91.4 313.3,89.3 317.0,89.2"/><polygon points="337.1,93.6 338.2,97.0 341.9,97.1 339.0,99.2 340.0,102.6 337.1,100.5 334.2,102.6 335.2,99.2 332.3,97.1 336.0,97.0"/><polygon points="358.5,89.8 359.6,93.2 363.3,93.3 360.4,95.4 361.4,98.8 358.5,96.8 355.6,98.8 356.6,95.4 353.7,93.3 357.4,93.2"/><polygon points="377.5,83.7 378.6,87.1 382.3,87.2 379.4,89.3 380.4,92.7 377.5,90.7 374.6,92.7 375.6,89.3 372.7,87.2 376.4,87.1"/><polygon points="391.0,83.5 392.1,86.9 395.8,87.0 392.9,89.1 393.9,92.5 391.0,90.5 388.1,92.5 389.1,89.1 386.2,87.0 389.9,86.9"/></g>
<rect x="60.5" y="2.5" width="397.0" height="299.7" fill="none" stroke="#6c6c6c" stroke-width="0.9"/>
<rect x="347.5" y="222.5" width="98" height="70.7" fill="#fff" stroke="#606060" stroke-width="0.8"/>
<circle cx="353" cy="231.10000000000002" r="3.0" fill="#2249aa"/>
<circle cx="353" cy="244.5" r="3.0" fill="#676291"/>
<circle cx="353" cy="257.8" r="3.0" fill="#770b78"/>
<circle cx="353" cy="271.3" r="3.0" fill="#1b6f56"/>
<g fill="#000"><polygon points="355.3,279.8 356.4,283.2 360.0,283.2 357.1,285.3 358.2,288.7 355.3,286.6 352.4,288.7 353.5,285.3 350.6,283.2 354.2,283.2"/></g>
<g font-family="'Liberation Sans', sans-serif" font-size="12.1" fill="#000" stroke="#000" stroke-width="0.2">
<text x="361.2" y="235.4">Transit</text>
<text x="361.2" y="248.8">Radial Velocity</text>
<text x="361.2" y="262.1">Microlensing</text>
<text x="361.2" y="275.6">Direct Imaging</text>
<text x="361.6" y="288.8">This paper</text>
</g>
<g font-family="'Liberation Sans', sans-serif" font-size="14" fill="#000" stroke="#000" stroke-width="0.25">
<text><tspan x="51.4" y="317.8">10</tspan><tspan x="66.8" y="314.1" font-size="12.6">−</tspan><tspan x="75.2" y="313.1" font-size="10.4">2</tspan></text>
<text><tspan x="107.4" y="317.8">10</tspan><tspan x="122.8" y="314.1" font-size="12.6">−</tspan><tspan x="131.2" y="313.1" font-size="10.4">1</tspan></text>
<text><tspan x="167.0" y="317.8">10</tspan><tspan x="182.5" y="313.1" font-size="10.4">0</tspan></text>
<text><tspan x="223.0" y="317.8">10</tspan><tspan x="238.5" y="313.1" font-size="10.4">1</tspan></text>
<text><tspan x="279.0" y="317.8">10</tspan><tspan x="294.5" y="313.1" font-size="10.4">2</tspan></text>
<text><tspan x="335.0" y="317.8">10</tspan><tspan x="350.5" y="313.1" font-size="10.4">3</tspan></text>
<text><tspan x="391.0" y="317.8">10</tspan><tspan x="406.5" y="313.1" font-size="10.4">4</tspan></text>
<text><tspan x="447.0" y="317.8">10</tspan><tspan x="462.5" y="313.1" font-size="10.4">5</tspan></text>
<text><tspan x="27.9" y="308.8">10</tspan><tspan x="43.3" y="305.1" font-size="12.6">−</tspan><tspan x="51.7" y="304.1" font-size="10.4">3</tspan></text>
<text><tspan x="27.9" y="210.0">10</tspan><tspan x="43.3" y="206.3" font-size="12.6">−</tspan><tspan x="51.7" y="205.3" font-size="10.4">2</tspan></text>
<text><tspan x="27.9" y="111.2">10</tspan><tspan x="43.3" y="107.5" font-size="12.6">−</tspan><tspan x="51.7" y="106.5" font-size="10.4">1</tspan></text>
<text><tspan x="36.5" y="12.5">10</tspan><tspan x="52.0" y="7.8" font-size="10.4">0</tspan></text>
</g>
<text font-family="'Liberation Sans', sans-serif" stroke="#000" stroke-width="0.25" font-size="14.6" x="259" y="334.8" text-anchor="middle">Separation (AU)</text>
<text font-family="'Liberation Sans', sans-serif" stroke="#000" stroke-width="0.25" font-size="14.6" transform="translate(17.6,153.1) rotate(-90)" text-anchor="middle">Mass ratio (M<tspan font-size="10" dy="2.5">2</tspan><tspan dy="-2.5">/M</tspan><tspan font-size="10" dy="2.5">1</tspan><tspan dy="-2.5">)</tspan></text>
</svg>
</body></html>
